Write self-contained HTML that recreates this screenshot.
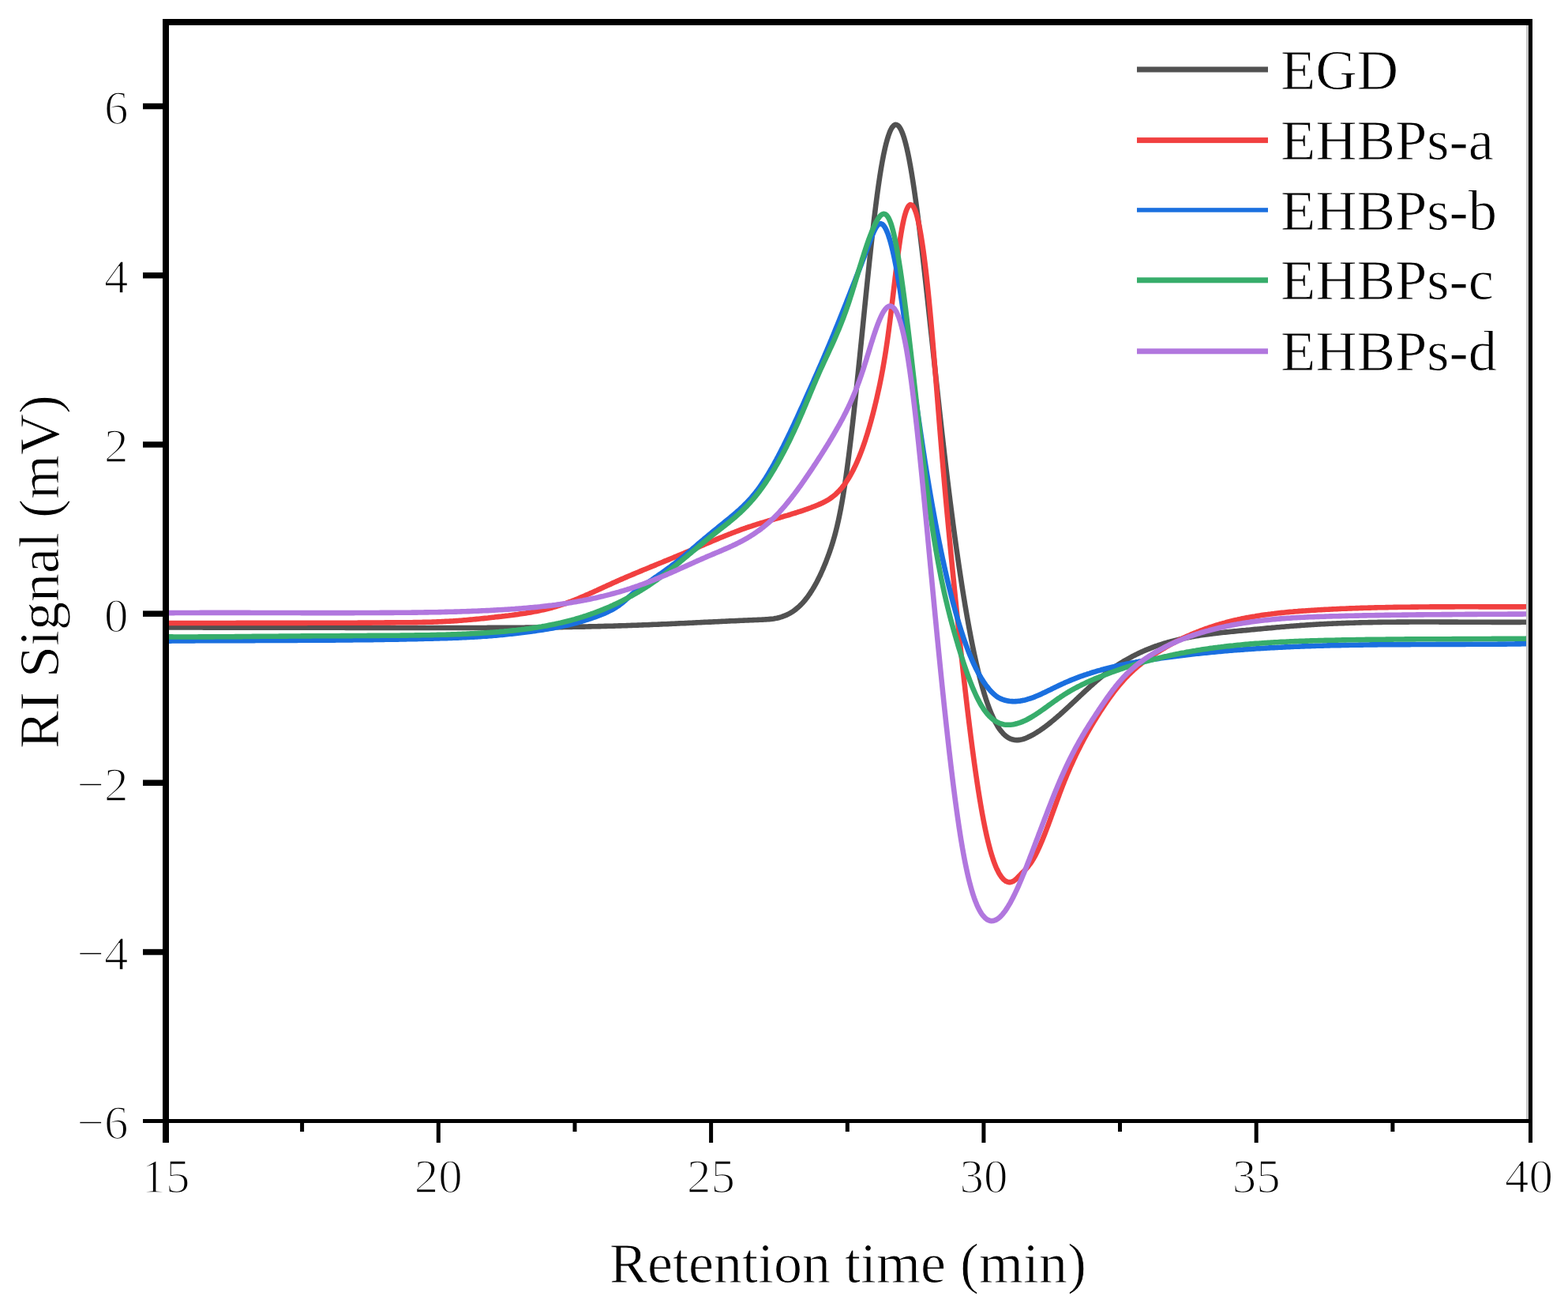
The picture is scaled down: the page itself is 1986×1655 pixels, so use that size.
<!DOCTYPE html>
<html><head><meta charset="utf-8"><title>RI Signal vs Retention time</title>
<style>html,body{margin:0;padding:0;background:#fff;}svg{display:block;}</style></head>
<body><svg xmlns="http://www.w3.org/2000/svg" width="1986" height="1655" viewBox="0 0 1986 1655">
<rect width="1986" height="1655" fill="#fff"/>
<defs><clipPath id="c"><rect x="214" y="32" width="1719" height="1385"/></clipPath></defs>
<g clip-path="url(#c)">
<path d="M210.0,794.5 212.0,794.5 214.0,794.5 216.0,794.5 218.0,794.5 220.0,794.5 222.0,794.5 224.0,794.5 226.0,794.5 228.0,794.5 230.0,794.5 232.0,794.5 234.0,794.5 236.0,794.5 238.0,794.5 240.0,794.5 242.0,794.5 244.0,794.5 246.0,794.5 248.0,794.5 250.0,794.5 252.0,794.5 254.0,794.5 256.0,794.5 258.0,794.6 260.0,794.6 262.0,794.6 264.0,794.6 266.0,794.6 268.0,794.6 270.0,794.6 272.0,794.6 274.0,794.6 276.0,794.6 278.0,794.6 280.0,794.6 282.0,794.6 284.0,794.6 286.0,794.6 288.0,794.6 290.0,794.6 292.0,794.6 294.0,794.6 296.0,794.6 298.0,794.6 300.0,794.6 302.0,794.6 304.0,794.6 306.0,794.6 308.0,794.6 310.0,794.6 312.0,794.6 314.0,794.6 316.0,794.6 318.0,794.6 320.0,794.6 322.0,794.6 324.0,794.6 326.0,794.6 328.0,794.7 330.0,794.7 332.0,794.7 334.0,794.7 336.0,794.7 338.0,794.7 340.0,794.7 342.0,794.7 344.0,794.7 346.0,794.7 348.0,794.7 350.0,794.7 352.0,794.7 354.0,794.7 356.0,794.7 358.0,794.7 360.0,794.7 362.0,794.7 364.0,794.7 366.0,794.7 368.0,794.7 370.0,794.7 372.0,794.7 374.0,794.7 376.0,794.7 378.0,794.7 380.0,794.7 382.0,794.7 384.0,794.8 386.0,794.8 388.0,794.8 390.0,794.8 392.0,794.8 394.0,794.8 396.0,794.8 398.0,794.8 400.0,794.8 402.0,794.8 404.0,794.8 406.0,794.8 408.0,794.8 410.0,794.8 412.0,794.8 414.0,794.8 416.0,794.8 418.0,794.8 420.0,794.8 422.0,794.8 424.0,794.8 426.0,794.8 428.0,794.8 430.0,794.8 432.0,794.8 434.0,794.8 436.0,794.8 438.0,794.9 440.0,794.9 442.0,794.9 444.0,794.9 446.0,794.9 448.0,794.9 450.0,794.9 452.0,794.9 454.0,794.9 456.0,794.9 458.0,794.9 460.0,794.9 462.0,794.9 464.0,794.9 466.0,794.9 468.0,794.9 470.0,794.9 472.0,794.9 474.0,794.9 476.0,794.9 478.0,794.9 480.0,794.9 482.0,794.9 484.0,794.9 486.0,794.9 488.0,794.9 490.0,794.9 492.0,794.9 494.0,794.9 496.0,795.0 498.0,795.0 500.0,795.0 502.0,795.0 504.0,795.0 506.0,795.0 508.0,795.0 510.0,795.0 512.0,795.0 514.0,795.0 516.0,795.0 518.0,795.0 520.0,795.0 522.0,795.0 524.0,795.0 526.0,795.0 528.0,795.0 530.0,795.0 532.0,795.0 534.0,795.0 536.0,795.0 538.0,795.0 540.0,795.0 542.0,795.0 544.0,795.0 546.0,795.0 548.0,795.0 550.0,795.0 552.0,795.0 554.0,795.0 556.0,795.0 558.0,795.0 560.0,795.0 562.0,795.0 564.0,795.0 566.0,795.0 568.0,795.0 570.0,795.0 572.0,795.0 574.0,795.0 576.0,795.0 578.0,795.0 580.0,795.0 582.0,795.0 584.0,795.0 586.0,795.0 588.0,795.0 590.0,795.0 592.0,795.0 594.0,795.0 596.0,795.0 598.0,795.0 600.0,795.0 602.0,795.0 604.0,795.0 606.0,795.0 608.0,795.0 610.0,795.0 612.0,795.0 614.0,795.0 616.0,795.0 618.0,794.9 620.0,794.9 622.0,794.9 624.0,794.9 626.0,794.9 628.0,794.9 630.0,794.9 632.0,794.9 634.0,794.9 636.0,794.9 638.0,794.9 640.0,794.8 642.0,794.8 644.0,794.8 646.0,794.8 648.0,794.8 650.0,794.8 652.0,794.8 654.0,794.7 656.0,794.7 658.0,794.7 660.0,794.7 662.0,794.7 664.0,794.7 666.0,794.6 668.0,794.6 670.0,794.6 672.0,794.6 674.0,794.6 676.0,794.6 678.0,794.5 680.0,794.5 682.0,794.5 684.0,794.5 686.0,794.4 688.0,794.4 690.0,794.4 692.0,794.4 694.0,794.3 696.0,794.3 698.0,794.3 700.0,794.3 702.0,794.2 704.0,794.2 706.0,794.2 708.0,794.1 710.0,794.1 712.0,794.1 714.0,794.0 716.0,794.0 718.0,794.0 720.0,793.9 722.0,793.9 724.0,793.9 726.0,793.8 728.0,793.8 730.0,793.8 732.0,793.7 734.0,793.7 736.0,793.6 738.0,793.6 740.0,793.6 742.0,793.5 744.0,793.5 746.0,793.4 748.0,793.4 750.0,793.3 752.0,793.3 754.0,793.2 756.0,793.2 758.0,793.1 760.0,793.1 762.0,793.0 764.0,793.0 766.0,792.9 768.0,792.9 770.0,792.8 772.0,792.8 774.0,792.7 776.0,792.7 778.0,792.6 780.0,792.5 782.0,792.5 784.0,792.4 786.0,792.4 788.0,792.3 790.0,792.2 792.0,792.2 794.0,792.1 796.0,792.0 798.0,792.0 800.0,791.9 802.0,791.8 804.0,791.8 806.0,791.7 808.0,791.6 810.0,791.5 812.0,791.5 814.0,791.4 816.0,791.3 818.0,791.2 820.0,791.2 822.0,791.1 824.0,791.0 826.0,790.9 828.0,790.8 830.0,790.8 832.0,790.7 834.0,790.6 836.0,790.5 838.0,790.4 840.0,790.3 842.0,790.2 844.0,790.2 846.0,790.1 848.0,790.0 850.0,789.9 852.0,789.8 854.0,789.7 856.0,789.6 858.0,789.5 860.0,789.4 862.0,789.3 864.0,789.3 866.0,789.2 868.0,789.1 870.0,789.0 872.0,788.9 874.0,788.8 876.0,788.7 878.0,788.6 880.0,788.5 882.0,788.4 884.0,788.3 886.0,788.2 888.0,788.1 890.0,788.0 892.0,787.9 894.0,787.8 896.0,787.7 898.0,787.6 900.0,787.6 902.0,787.5 904.0,787.4 906.0,787.3 908.0,787.2 910.0,787.1 912.0,787.0 914.0,786.9 916.0,786.8 918.0,786.7 920.0,786.6 922.0,786.5 924.0,786.4 926.0,786.3 928.0,786.2 930.0,786.2 932.0,786.1 934.0,786.0 936.0,785.9 938.0,785.8 940.0,785.7 942.0,785.6 944.0,785.5 946.0,785.5 948.0,785.4 950.0,785.3 952.0,785.2 954.0,785.1 956.0,785.0 958.0,785.0 960.0,784.9 962.0,784.8 964.0,784.7 966.0,784.6 968.0,784.5 970.0,784.4 972.0,784.3 974.0,784.1 976.0,783.9 978.0,783.7 980.0,783.4 982.0,783.0 984.0,782.7 986.0,782.2 988.0,781.7 990.0,781.1 991.9,780.4 993.8,779.7 995.7,778.9 997.6,778.0 999.4,777.1 1001.2,776.1 1003.0,775.0 1004.7,773.9 1006.4,772.7 1008.0,771.5 1009.6,770.1 1011.2,768.8 1012.7,767.4 1014.2,765.9 1015.6,764.5 1017.0,763.0 1018.4,761.4 1019.7,759.8 1021.0,758.2 1022.3,756.5 1023.5,754.9 1024.7,753.2 1025.9,751.5 1027.1,749.6 1028.2,747.9 1029.3,746.1 1030.4,744.3 1031.5,742.4 1032.5,740.7 1033.5,738.8 1034.5,737.0 1035.5,735.0 1036.5,733.1 1037.4,731.2 1038.3,729.4 1039.2,727.5 1040.1,725.5 1041.0,723.5 1041.9,721.5 1042.7,719.6 1043.5,717.7 1044.3,715.8 1045.1,713.9 1045.9,711.9 1046.7,709.8 1047.5,707.7 1048.3,705.6 1049.0,703.7 1049.7,701.8 1050.4,699.9 1051.1,697.9 1051.8,695.8 1052.5,693.8 1053.2,691.6 1053.9,689.4 1054.5,687.5 1055.1,685.5 1055.7,683.5 1056.3,681.4 1056.9,679.3 1057.5,677.1 1058.1,674.8 1058.7,672.5 1059.2,670.5 1059.7,668.5 1060.2,666.4 1060.7,664.3 1061.2,662.1 1061.7,659.9 1062.2,657.6 1062.7,655.3 1063.2,652.9 1063.7,650.4 1064.1,648.4 1064.5,646.4 1064.9,644.3 1065.3,642.1 1065.7,640.0 1066.1,637.8 1066.5,635.5 1066.9,633.2 1067.3,630.9 1067.7,628.5 1068.1,626.1 1068.5,623.6 1068.9,621.1 1069.3,618.5 1069.7,615.9 1070.0,613.9 1070.3,611.9 1070.6,609.8 1070.9,607.8 1071.2,605.7 1071.5,603.6 1071.8,601.5 1072.1,599.3 1072.4,597.1 1072.7,594.9 1073.0,592.7 1073.3,590.5 1073.6,588.2 1073.9,585.9 1074.2,583.6 1074.5,581.3 1074.8,579.0 1075.1,576.6 1075.4,574.2 1075.7,571.8 1076.0,569.4 1076.3,567.0 1076.6,564.5 1076.9,562.1 1077.2,559.6 1077.5,557.1 1077.8,554.5 1078.1,552.0 1078.4,549.4 1078.7,546.9 1079.0,544.3 1079.3,541.7 1079.6,539.1 1079.9,536.4 1080.2,533.8 1080.5,531.1 1080.8,528.4 1081.1,525.8 1081.4,523.1 1081.7,520.3 1082.0,517.6 1082.3,514.9 1082.6,512.1 1082.9,509.3 1083.2,506.6 1083.5,503.8 1083.8,501.0 1084.1,498.2 1084.4,495.4 1084.7,492.5 1085.0,489.7 1085.3,486.8 1085.6,484.0 1085.9,481.1 1086.2,478.2 1086.5,475.4 1086.8,472.5 1087.1,469.6 1087.4,466.7 1087.7,463.7 1088.0,460.8 1088.3,457.9 1088.6,455.0 1088.9,452.0 1089.2,449.1 1089.5,446.1 1089.8,443.2 1090.1,440.2 1090.4,437.2 1090.7,434.3 1091.0,431.3 1091.3,428.3 1091.6,425.3 1091.9,422.3 1092.2,419.4 1092.5,416.4 1092.7,414.4 1092.9,412.4 1093.1,410.4 1093.3,408.4 1093.5,406.4 1093.7,404.4 1093.9,402.4 1094.2,399.5 1094.5,396.5 1094.8,393.5 1095.1,390.5 1095.4,387.5 1095.7,384.6 1096.0,381.6 1096.3,378.6 1096.6,375.7 1096.9,372.7 1097.2,369.8 1097.5,366.8 1097.8,363.9 1098.1,360.9 1098.4,358.0 1098.7,355.1 1099.0,352.2 1099.3,349.3 1099.6,346.4 1099.9,343.5 1100.2,340.6 1100.5,337.8 1100.8,334.9 1101.1,332.0 1101.4,329.2 1101.7,326.4 1102.0,323.6 1102.3,320.8 1102.6,318.0 1102.9,315.2 1103.2,312.5 1103.5,309.7 1103.8,307.0 1104.1,304.3 1104.4,301.6 1104.7,298.9 1105.0,296.2 1105.3,293.6 1105.6,290.9 1105.9,288.3 1106.2,285.7 1106.5,283.1 1106.8,280.5 1107.1,278.0 1107.4,275.5 1107.7,273.0 1108.0,270.5 1108.3,268.0 1108.6,265.6 1108.9,263.2 1109.2,260.7 1109.5,258.4 1109.8,256.0 1110.1,253.7 1110.4,251.4 1110.7,249.1 1111.0,246.8 1111.3,244.6 1111.6,242.4 1111.9,240.2 1112.2,238.0 1112.5,235.9 1112.8,233.8 1113.1,231.7 1113.4,229.7 1113.7,227.7 1114.0,225.7 1114.4,223.1 1114.8,220.5 1115.2,218.0 1115.6,215.5 1116.0,213.1 1116.4,210.8 1116.8,208.5 1117.2,206.2 1117.6,204.0 1118.0,201.9 1118.4,199.8 1118.8,197.7 1119.2,195.7 1119.7,193.3 1120.2,191.0 1120.7,188.7 1121.2,186.5 1121.7,184.4 1122.2,182.4 1122.7,180.5 1123.3,178.3 1123.9,176.2 1124.5,174.2 1125.2,172.0 1125.9,170.0 1126.7,167.8 1127.5,165.9 1128.4,164.0 1129.4,162.2 1130.6,160.4 1132.0,158.9 1133.8,157.9 1135.8,158.0 1137.5,159.0 1138.9,160.5 1140.1,162.3 1141.1,164.2 1142.0,166.1 1142.8,168.0 1143.6,170.2 1144.3,172.2 1145.0,174.3 1145.6,176.3 1146.2,178.4 1146.8,180.6 1147.4,182.9 1147.9,185.0 1148.4,187.0 1148.9,189.2 1149.4,191.5 1149.9,193.8 1150.4,196.2 1150.8,198.1 1151.2,200.2 1151.6,202.2 1152.0,204.3 1152.4,206.5 1152.8,208.7 1153.2,210.9 1153.6,213.2 1154.0,215.5 1154.4,217.9 1154.8,220.3 1155.2,222.7 1155.6,225.2 1156.0,227.7 1156.4,230.3 1156.8,232.9 1157.2,235.5 1157.5,237.5 1157.8,239.6 1158.1,241.6 1158.4,243.7 1158.7,245.8 1159.0,247.9 1159.3,250.0 1159.6,252.1 1159.9,254.3 1160.2,256.5 1160.5,258.7 1160.8,260.9 1161.1,263.1 1161.4,265.4 1161.7,267.6 1162.0,269.9 1162.3,272.2 1162.6,274.5 1162.9,276.9 1163.2,279.2 1163.5,281.6 1163.8,284.0 1164.1,286.3 1164.4,288.8 1164.7,291.2 1165.0,293.6 1165.3,296.1 1165.6,298.5 1165.9,301.0 1166.2,303.5 1166.5,306.0 1166.8,308.5 1167.1,311.1 1167.4,313.6 1167.7,316.2 1168.0,318.7 1168.3,321.3 1168.6,323.9 1168.9,326.5 1169.2,329.1 1169.5,331.7 1169.8,334.3 1170.1,337.0 1170.4,339.6 1170.7,342.3 1171.0,344.9 1171.3,347.6 1171.6,350.3 1171.9,353.0 1172.2,355.7 1172.5,358.4 1172.8,361.1 1173.1,363.8 1173.4,366.5 1173.7,369.3 1174.0,372.0 1174.3,374.7 1174.6,377.5 1174.9,380.2 1175.2,383.0 1175.5,385.8 1175.8,388.5 1176.1,391.3 1176.4,394.1 1176.7,396.8 1177.0,399.6 1177.3,402.4 1177.6,405.2 1177.9,408.0 1178.2,410.8 1178.5,413.6 1178.8,416.4 1179.1,419.1 1179.4,421.9 1179.7,424.7 1180.0,427.5 1180.3,430.3 1180.6,433.1 1180.9,435.9 1181.2,438.7 1181.5,441.5 1181.8,444.3 1182.1,447.1 1182.4,449.9 1182.7,452.7 1183.0,455.5 1183.3,458.3 1183.6,461.1 1183.9,463.9 1184.2,466.6 1184.5,469.4 1184.8,472.2 1185.1,475.0 1185.4,477.8 1185.7,480.5 1186.0,483.3 1186.3,486.1 1186.6,488.9 1186.9,491.6 1187.2,494.4 1187.5,497.1 1187.8,499.9 1188.1,502.6 1188.4,505.4 1188.7,508.1 1189.0,510.9 1189.3,513.6 1189.6,516.3 1189.9,519.0 1190.2,521.8 1190.5,524.5 1190.8,527.2 1191.1,529.9 1191.4,532.6 1191.7,535.3 1192.0,537.9 1192.3,540.6 1192.6,543.3 1192.9,546.0 1193.2,548.6 1193.5,551.3 1193.8,553.9 1194.1,556.5 1194.4,559.2 1194.7,561.8 1195.0,564.4 1195.3,567.0 1195.6,569.6 1195.9,572.2 1196.2,574.8 1196.5,577.4 1196.8,579.9 1197.1,582.5 1197.4,585.1 1197.7,587.6 1198.0,590.1 1198.3,592.7 1198.6,595.2 1198.9,597.7 1199.2,600.2 1199.5,602.7 1199.8,605.2 1200.1,607.6 1200.4,610.1 1200.7,612.5 1201.0,615.0 1201.3,617.4 1201.6,619.9 1201.9,622.3 1202.2,624.7 1202.5,627.1 1202.8,629.5 1203.1,631.9 1203.4,634.3 1203.7,636.6 1204.0,639.0 1204.3,641.3 1204.6,643.7 1204.9,646.0 1205.2,648.3 1205.5,650.7 1205.8,653.0 1206.1,655.3 1206.4,657.5 1206.7,659.8 1207.0,662.1 1207.3,664.4 1207.6,666.6 1207.9,668.9 1208.2,671.1 1208.5,673.3 1208.8,675.5 1209.1,677.7 1209.4,679.9 1209.7,682.1 1210.0,684.3 1210.3,686.5 1210.6,688.7 1210.9,690.8 1211.2,693.0 1211.5,695.1 1211.8,697.2 1212.1,699.3 1212.4,701.4 1212.7,703.5 1213.0,705.6 1213.3,707.7 1213.6,709.8 1213.9,711.8 1214.2,713.9 1214.5,715.9 1214.8,718.0 1215.1,720.0 1215.4,722.0 1215.7,724.0 1216.0,726.0 1216.3,728.0 1216.6,730.0 1217.0,732.6 1217.4,735.2 1217.8,737.8 1218.2,740.4 1218.6,742.9 1219.0,745.5 1219.4,748.0 1219.8,750.5 1220.2,753.0 1220.6,755.5 1221.0,757.9 1221.4,760.3 1221.8,762.8 1222.2,765.2 1222.6,767.6 1223.0,769.9 1223.4,772.3 1223.8,774.6 1224.2,776.9 1224.6,779.2 1225.0,781.5 1225.4,783.8 1225.8,786.0 1226.2,788.2 1226.6,790.5 1227.0,792.6 1227.4,794.8 1227.8,797.0 1228.2,799.1 1228.6,801.2 1229.0,803.4 1229.4,805.4 1229.8,807.5 1230.2,809.6 1230.6,811.6 1231.0,813.6 1231.4,815.6 1231.8,817.6 1232.2,819.6 1232.7,822.0 1233.2,824.4 1233.7,826.8 1234.2,829.1 1234.7,831.4 1235.2,833.7 1235.7,836.0 1236.2,838.2 1236.7,840.4 1237.2,842.6 1237.7,844.7 1238.2,846.8 1238.7,848.9 1239.2,851.0 1239.7,853.0 1240.2,855.0 1240.7,857.0 1241.2,858.9 1241.8,861.2 1242.4,863.5 1243.0,865.7 1243.6,867.9 1244.2,870.0 1244.8,872.1 1245.4,874.2 1246.0,876.2 1246.6,878.2 1247.2,880.2 1247.8,882.1 1248.5,884.2 1249.2,886.4 1249.9,888.5 1250.6,890.5 1251.3,892.5 1252.0,894.4 1252.7,896.3 1253.5,898.4 1254.3,900.4 1255.1,902.4 1255.9,904.3 1256.7,906.1 1257.6,908.1 1258.5,910.0 1259.4,911.9 1260.4,913.9 1261.4,915.7 1262.4,917.5 1263.5,919.4 1264.6,921.1 1265.8,922.9 1267.0,924.5 1268.3,926.2 1269.6,927.7 1271.0,929.3 1272.5,930.7 1274.1,932.1 1275.8,933.3 1277.5,934.4 1279.3,935.3 1281.2,936.0 1283.2,936.6 1285.2,937.0 1287.2,937.1 1289.2,937.1 1291.2,936.9 1293.2,936.6 1295.2,936.1 1297.2,935.5 1299.1,934.8 1301.0,934.0 1302.9,933.1 1304.7,932.2 1306.5,931.3 1308.3,930.3 1310.1,929.3 1311.9,928.2 1313.7,927.1 1315.4,926.0 1317.1,924.9 1318.8,923.7 1320.5,922.6 1322.2,921.3 1323.9,920.1 1325.5,918.9 1327.1,917.7 1328.7,916.4 1330.3,915.1 1331.9,913.8 1333.5,912.5 1335.1,911.2 1336.7,909.8 1338.3,908.5 1339.9,907.1 1341.5,905.7 1343.0,904.4 1344.5,903.0 1346.0,901.7 1347.5,900.3 1349.0,898.9 1350.5,897.6 1352.0,896.2 1353.5,894.8 1355.0,893.4 1356.5,892.0 1358.0,890.6 1359.5,889.2 1361.0,887.8 1362.5,886.4 1364.0,885.0 1365.5,883.5 1367.0,882.1 1368.5,880.7 1370.0,879.3 1371.5,877.9 1373.0,876.5 1374.5,875.1 1376.0,873.8 1377.5,872.4 1379.0,871.0 1380.5,869.6 1382.0,868.3 1383.5,867.0 1385.0,865.6 1386.6,864.2 1388.2,862.8 1389.8,861.5 1391.4,860.1 1393.0,858.8 1394.6,857.5 1396.2,856.2 1397.8,854.9 1399.4,853.7 1401.0,852.4 1402.6,851.2 1404.3,849.9 1406.0,848.7 1407.7,847.5 1409.4,846.3 1411.1,845.1 1412.8,844.0 1414.5,842.8 1416.2,841.7 1417.9,840.6 1419.6,839.6 1421.4,838.5 1423.2,837.4 1425.0,836.3 1426.8,835.3 1428.6,834.3 1430.4,833.3 1432.2,832.3 1434.0,831.3 1435.8,830.4 1437.6,829.5 1439.4,828.6 1441.2,827.7 1443.1,826.8 1445.0,825.9 1446.9,825.1 1448.8,824.2 1450.7,823.4 1452.6,822.6 1454.5,821.9 1456.4,821.1 1458.3,820.4 1460.2,819.6 1462.1,818.9 1464.0,818.2 1465.9,817.6 1467.8,816.9 1469.7,816.3 1471.7,815.7 1473.7,815.0 1475.7,814.4 1477.7,813.8 1479.7,813.2 1481.7,812.7 1483.7,812.1 1485.7,811.6 1487.7,811.1 1489.7,810.6 1491.7,810.1 1493.7,809.6 1495.7,809.2 1497.7,808.7 1499.7,808.3 1501.7,807.9 1503.7,807.5 1505.7,807.1 1507.7,806.7 1509.7,806.3 1511.7,806.0 1513.7,805.6 1515.7,805.3 1517.7,805.0 1519.7,804.6 1521.7,804.3 1523.7,804.0 1525.7,803.7 1527.7,803.5 1529.7,803.2 1531.7,802.9 1533.7,802.6 1535.7,802.4 1537.7,802.1 1539.7,801.9 1541.7,801.7 1543.7,801.4 1545.7,801.2 1547.7,801.0 1549.7,800.8 1551.7,800.6 1553.7,800.4 1555.7,800.2 1557.7,800.0 1559.7,799.8 1561.7,799.6 1563.7,799.4 1565.7,799.2 1567.7,799.0 1569.7,798.8 1571.7,798.6 1573.7,798.4 1575.7,798.2 1577.7,798.1 1579.7,797.9 1581.7,797.7 1583.7,797.5 1585.7,797.3 1587.7,797.1 1589.7,796.9 1591.7,796.7 1593.7,796.5 1595.7,796.4 1597.7,796.2 1599.7,796.0 1601.7,795.8 1603.7,795.6 1605.7,795.4 1607.7,795.2 1609.7,795.1 1611.7,794.9 1613.7,794.7 1615.7,794.5 1617.7,794.3 1619.7,794.2 1621.7,794.0 1623.7,793.8 1625.7,793.7 1627.7,793.5 1629.7,793.3 1631.7,793.2 1633.7,793.0 1635.7,792.8 1637.7,792.7 1639.7,792.5 1641.7,792.4 1643.7,792.2 1645.7,792.1 1647.7,791.9 1649.7,791.8 1651.7,791.7 1653.7,791.5 1655.7,791.4 1657.7,791.3 1659.7,791.1 1661.7,791.0 1663.7,790.9 1665.7,790.8 1667.7,790.6 1669.7,790.5 1671.7,790.4 1673.7,790.3 1675.7,790.2 1677.7,790.1 1679.7,790.0 1681.7,789.9 1683.7,789.8 1685.7,789.7 1687.7,789.6 1689.7,789.5 1691.7,789.5 1693.7,789.4 1695.7,789.3 1697.7,789.2 1699.7,789.1 1701.7,789.1 1703.7,789.0 1705.7,788.9 1707.7,788.9 1709.7,788.8 1711.7,788.7 1713.7,788.7 1715.7,788.6 1717.7,788.5 1719.7,788.5 1721.7,788.4 1723.7,788.4 1725.7,788.3 1727.7,788.3 1729.7,788.2 1731.7,788.2 1733.7,788.1 1735.7,788.1 1737.7,788.1 1739.7,788.0 1741.7,788.0 1743.7,788.0 1745.7,787.9 1747.7,787.9 1749.7,787.9 1751.7,787.8 1753.7,787.8 1755.7,787.8 1757.7,787.8 1759.7,787.7 1761.7,787.7 1763.7,787.7 1765.7,787.7 1767.7,787.7 1769.7,787.6 1771.7,787.6 1773.7,787.6 1775.7,787.6 1777.7,787.6 1779.7,787.6 1781.7,787.6 1783.7,787.6 1785.7,787.5 1787.7,787.5 1789.7,787.5 1791.7,787.5 1793.7,787.5 1795.7,787.5 1797.7,787.5 1799.7,787.5 1801.7,787.5 1803.7,787.5 1805.7,787.5 1807.7,787.5 1809.7,787.5 1811.7,787.5 1813.7,787.5 1815.7,787.5 1817.7,787.5 1819.7,787.5 1821.7,787.5 1823.7,787.6 1825.7,787.6 1827.7,787.6 1829.7,787.6 1831.7,787.6 1833.7,787.6 1835.7,787.6 1837.7,787.6 1839.7,787.6 1841.7,787.6 1843.7,787.6 1845.7,787.6 1847.7,787.7 1849.7,787.7 1851.7,787.7 1853.7,787.7 1855.7,787.7 1857.7,787.7 1859.7,787.7 1861.7,787.7 1863.7,787.7 1865.7,787.7 1867.7,787.8 1869.7,787.8 1871.7,787.8 1873.7,787.8 1875.7,787.8 1877.7,787.8 1879.7,787.8 1881.7,787.8 1883.7,787.8 1885.7,787.8 1887.7,787.8 1889.7,787.9 1891.7,787.9 1893.7,787.9 1895.7,787.9 1897.7,787.9 1899.7,787.9 1901.7,787.9 1903.7,787.9 1905.7,787.9 1907.7,787.9 1909.7,787.9 1911.7,787.9 1913.7,787.9 1915.7,787.9 1917.7,787.9 1919.7,787.9 1921.7,787.9 1923.7,787.9 1925.7,787.9 1927.7,787.8 1929.7,787.8 1931.7,787.8 1933.7,787.8 1935.0,787.8" stroke="#515151" stroke-width="6.6" fill="none" stroke-linejoin="round" stroke-linecap="butt"/>
<path d="M210.0,789.0 212.0,789.0 214.0,789.0 216.0,789.0 218.0,789.0 220.0,789.0 222.0,789.0 224.0,789.0 226.0,789.0 228.0,789.0 230.0,789.0 232.0,789.0 234.0,789.0 236.0,789.0 238.0,789.0 240.0,789.0 242.0,789.0 244.0,789.0 246.0,789.0 248.0,789.0 250.0,789.0 252.0,789.0 254.0,789.0 256.0,789.0 258.0,789.0 260.0,789.0 262.0,789.0 264.0,789.0 266.0,789.0 268.0,789.0 270.0,789.0 272.0,789.0 274.0,789.0 276.0,789.0 278.0,789.0 280.0,789.0 282.0,789.0 284.0,789.0 286.0,789.0 288.0,789.0 290.0,789.0 292.0,789.0 294.0,789.0 296.0,789.0 298.0,789.0 300.0,788.9 302.0,788.9 304.0,788.9 306.0,788.9 308.0,788.9 310.0,788.9 312.0,788.9 314.0,788.9 316.0,788.9 318.0,788.9 320.0,788.9 322.0,788.9 324.0,788.9 326.0,788.9 328.0,788.9 330.0,788.9 332.0,788.9 334.0,788.9 336.0,788.9 338.0,788.9 340.0,788.9 342.0,788.9 344.0,788.9 346.0,788.9 348.0,788.9 350.0,788.9 352.0,788.9 354.0,788.9 356.0,788.9 358.0,788.9 360.0,788.9 362.0,788.9 364.0,788.9 366.0,788.9 368.0,788.9 370.0,788.9 372.0,788.9 374.0,788.9 376.0,788.9 378.0,788.9 380.0,788.9 382.0,788.9 384.0,788.9 386.0,788.9 388.0,788.9 390.0,788.8 392.0,788.8 394.0,788.8 396.0,788.8 398.0,788.8 400.0,788.8 402.0,788.8 404.0,788.8 406.0,788.8 408.0,788.8 410.0,788.8 412.0,788.8 414.0,788.8 416.0,788.8 418.0,788.8 420.0,788.8 422.0,788.8 424.0,788.8 426.0,788.8 428.0,788.7 430.0,788.7 432.0,788.7 434.0,788.7 436.0,788.7 438.0,788.7 440.0,788.7 442.0,788.7 444.0,788.7 446.0,788.7 448.0,788.7 450.0,788.7 452.0,788.7 454.0,788.6 456.0,788.6 458.0,788.6 460.0,788.6 462.0,788.6 464.0,788.6 466.0,788.6 468.0,788.6 470.0,788.6 472.0,788.5 474.0,788.5 476.0,788.5 478.0,788.5 480.0,788.5 482.0,788.5 484.0,788.5 486.0,788.5 488.0,788.4 490.0,788.4 492.0,788.4 494.0,788.4 496.0,788.4 498.0,788.4 500.0,788.4 502.0,788.3 504.0,788.3 506.0,788.3 508.0,788.3 510.0,788.3 512.0,788.3 514.0,788.2 516.0,788.2 518.0,788.2 520.0,788.2 522.0,788.2 524.0,788.1 526.0,788.1 528.0,788.1 530.0,788.0 532.0,788.0 534.0,788.0 536.0,787.9 538.0,787.9 540.0,787.8 542.0,787.8 544.0,787.7 546.0,787.7 548.0,787.6 550.0,787.5 552.0,787.5 554.0,787.4 556.0,787.3 558.0,787.2 560.0,787.1 562.0,787.0 564.0,786.9 566.0,786.8 568.0,786.7 570.0,786.6 572.0,786.5 574.0,786.4 576.0,786.2 578.0,786.1 580.0,786.0 582.0,785.8 584.0,785.7 586.0,785.5 588.0,785.3 590.0,785.2 592.0,785.0 594.0,784.8 596.0,784.6 598.0,784.5 600.0,784.3 602.0,784.1 604.0,783.9 606.0,783.7 608.0,783.5 610.0,783.3 612.0,783.1 614.0,782.9 616.0,782.7 618.0,782.5 620.0,782.2 622.0,782.0 624.0,781.8 626.0,781.6 628.0,781.3 630.0,781.1 632.0,780.9 634.0,780.7 636.0,780.4 638.0,780.2 640.0,779.9 642.0,779.7 644.0,779.5 646.0,779.2 648.0,779.0 650.0,778.7 652.0,778.4 654.0,778.2 656.0,777.9 658.0,777.6 660.0,777.3 662.0,777.0 664.0,776.7 666.0,776.4 668.0,776.0 670.0,775.7 672.0,775.4 674.0,775.0 676.0,774.6 678.0,774.3 680.0,773.9 682.0,773.5 684.0,773.0 686.0,772.6 688.0,772.2 690.0,771.7 692.0,771.2 694.0,770.7 696.0,770.2 698.0,769.7 700.0,769.2 702.0,768.6 704.0,768.0 706.0,767.4 708.0,766.8 710.0,766.2 712.0,765.5 713.9,764.9 715.8,764.3 717.7,763.6 719.6,762.9 721.5,762.2 723.4,761.5 725.3,760.7 727.2,760.0 729.1,759.2 731.0,758.5 732.9,757.7 734.8,756.9 736.7,756.1 738.6,755.3 740.5,754.5 742.4,753.6 744.3,752.8 746.2,752.0 748.1,751.1 750.0,750.3 751.9,749.4 753.8,748.5 755.7,747.7 757.6,746.8 759.5,745.9 761.4,745.1 763.3,744.2 765.2,743.3 767.1,742.5 769.0,741.6 770.9,740.7 772.8,739.9 774.7,739.0 776.6,738.1 778.5,737.3 780.4,736.4 782.3,735.6 784.2,734.7 786.1,733.9 788.0,733.1 789.9,732.3 791.8,731.4 793.7,730.6 795.6,729.8 797.5,729.0 799.4,728.2 801.3,727.4 803.2,726.6 805.1,725.8 807.0,725.0 808.9,724.2 810.8,723.4 812.7,722.6 814.6,721.8 816.5,721.0 818.4,720.3 820.3,719.5 822.2,718.7 824.1,717.9 826.0,717.1 827.9,716.4 829.8,715.6 831.7,714.8 833.6,714.0 835.5,713.2 837.4,712.5 839.3,711.7 841.2,710.9 843.1,710.1 845.0,709.4 846.9,708.6 848.8,707.8 850.7,707.0 852.6,706.2 854.5,705.4 856.4,704.7 858.3,703.9 860.2,703.1 862.1,702.3 864.0,701.5 865.9,700.7 867.8,699.9 869.7,699.1 871.6,698.3 873.5,697.5 875.4,696.7 877.3,695.9 879.2,695.0 881.1,694.2 883.0,693.4 884.9,692.6 886.8,691.8 888.7,691.0 890.6,690.2 892.5,689.3 894.4,688.5 896.3,687.7 898.2,686.9 900.1,686.1 902.0,685.3 903.9,684.5 905.8,683.7 907.7,682.9 909.6,682.1 911.5,681.3 913.4,680.5 915.3,679.8 917.2,679.0 919.1,678.2 921.0,677.5 922.9,676.7 924.8,676.0 926.7,675.2 928.6,674.5 930.5,673.8 932.4,673.0 934.3,672.3 936.2,671.6 938.1,670.9 940.0,670.2 941.9,669.5 943.8,668.9 945.7,668.2 947.6,667.5 949.5,666.9 951.4,666.3 953.4,665.6 955.4,665.0 957.4,664.3 959.4,663.7 961.4,663.1 963.4,662.5 965.4,661.9 967.4,661.3 969.4,660.7 971.4,660.1 973.4,659.5 975.4,658.9 977.4,658.3 979.4,657.8 981.4,657.2 983.4,656.6 985.4,656.0 987.4,655.5 989.4,654.9 991.4,654.3 993.4,653.7 995.4,653.1 997.4,652.6 999.4,652.0 1001.4,651.4 1003.4,650.7 1005.4,650.1 1007.4,649.5 1009.4,648.9 1011.4,648.2 1013.4,647.6 1015.3,647.0 1017.2,646.3 1019.1,645.7 1021.0,645.0 1022.9,644.3 1024.8,643.7 1026.7,643.0 1028.6,642.2 1030.5,641.5 1032.4,640.8 1034.3,640.0 1036.2,639.2 1038.1,638.4 1040.0,637.6 1041.9,636.7 1043.7,635.8 1045.5,634.9 1047.3,633.8 1049.1,632.8 1050.8,631.7 1052.5,630.5 1054.2,629.3 1055.8,628.0 1057.4,626.7 1058.9,625.4 1060.4,623.9 1061.9,622.5 1063.3,621.0 1064.7,619.4 1066.1,617.8 1067.4,616.2 1068.7,614.6 1069.9,613.0 1071.1,611.3 1072.3,609.5 1073.5,607.7 1074.6,606.0 1075.7,604.2 1076.8,602.3 1077.8,600.5 1078.8,598.7 1079.8,596.8 1080.8,594.9 1081.7,593.1 1082.6,591.2 1083.5,589.3 1084.4,587.4 1085.3,585.4 1086.2,583.3 1087.0,581.4 1087.8,579.5 1088.6,577.6 1089.4,575.5 1090.2,573.5 1091.0,571.4 1091.7,569.5 1092.4,567.6 1093.1,565.6 1093.8,563.7 1094.5,561.6 1095.2,559.6 1095.9,557.5 1096.6,555.3 1097.3,553.1 1098.0,550.9 1098.6,549.0 1099.2,547.0 1099.8,545.0 1100.4,543.0 1101.0,540.9 1101.6,538.8 1102.2,536.7 1102.8,534.6 1103.4,532.4 1104.0,530.2 1104.6,527.9 1105.2,525.6 1105.8,523.3 1106.3,521.4 1106.8,519.4 1107.3,517.4 1107.8,515.4 1108.3,513.3 1108.8,511.3 1109.3,509.2 1109.8,507.1 1110.3,504.9 1110.8,502.8 1111.3,500.6 1111.8,498.3 1112.3,496.1 1112.8,493.8 1113.3,491.5 1113.8,489.2 1114.3,486.8 1114.8,484.4 1115.2,482.4 1115.6,480.4 1116.0,478.4 1116.4,476.3 1116.8,474.2 1117.2,472.1 1117.6,470.0 1118.0,467.8 1118.4,465.6 1118.8,463.3 1119.2,461.0 1119.6,458.7 1120.0,456.3 1120.4,453.9 1120.8,451.5 1121.2,449.0 1121.6,446.5 1122.0,443.9 1122.4,441.3 1122.7,439.3 1123.0,437.3 1123.3,435.3 1123.6,433.2 1123.9,431.1 1124.2,429.0 1124.5,426.9 1124.8,424.7 1125.1,422.5 1125.4,420.2 1125.7,418.0 1126.0,415.7 1126.3,413.4 1126.6,411.0 1126.9,408.7 1127.2,406.3 1127.5,403.9 1127.8,401.5 1128.1,399.0 1128.4,396.6 1128.7,394.1 1129.0,391.6 1129.3,389.1 1129.6,386.6 1129.9,384.1 1130.2,381.6 1130.5,379.1 1130.8,376.5 1131.1,374.0 1131.4,371.5 1131.7,368.9 1132.0,366.4 1132.3,363.8 1132.6,361.3 1132.9,358.8 1133.2,356.3 1133.5,353.8 1133.8,351.2 1134.1,348.8 1134.4,346.3 1134.7,343.8 1135.0,341.3 1135.3,338.9 1135.6,336.5 1135.9,334.1 1136.2,331.7 1136.5,329.3 1136.8,327.0 1137.1,324.7 1137.4,322.4 1137.7,320.1 1138.0,317.9 1138.3,315.7 1138.6,313.5 1138.9,311.4 1139.2,309.3 1139.5,307.2 1139.8,305.1 1140.1,303.1 1140.5,300.5 1140.9,298.0 1141.3,295.5 1141.7,293.2 1142.1,290.9 1142.5,288.7 1142.9,286.5 1143.3,284.5 1143.7,282.5 1144.2,280.2 1144.7,277.9 1145.2,275.8 1145.7,273.9 1146.3,271.7 1146.9,269.7 1147.6,267.5 1148.3,265.6 1149.1,263.8 1150.1,261.9 1151.3,260.2 1153.0,259.1 1155.0,259.6 1156.4,261.0 1157.5,262.8 1158.4,264.7 1159.2,266.6 1159.9,268.6 1160.6,270.8 1161.2,272.9 1161.8,275.1 1162.3,277.1 1162.8,279.1 1163.3,281.3 1163.8,283.6 1164.3,286.1 1164.7,288.1 1165.1,290.2 1165.5,292.3 1165.9,294.6 1166.3,296.9 1166.7,299.2 1167.1,301.7 1167.5,304.2 1167.9,306.7 1168.2,308.7 1168.5,310.7 1168.8,312.8 1169.1,314.9 1169.4,317.0 1169.7,319.2 1170.0,321.4 1170.3,323.7 1170.6,325.9 1170.9,328.3 1171.2,330.6 1171.5,333.0 1171.8,335.5 1172.1,337.9 1172.4,340.5 1172.7,343.0 1173.0,345.6 1173.3,348.2 1173.6,350.9 1173.9,353.6 1174.2,356.3 1174.5,359.1 1174.8,361.9 1175.1,364.8 1175.4,367.7 1175.7,370.6 1176.0,373.5 1176.2,375.5 1176.4,377.6 1176.6,379.6 1176.8,381.6 1177.0,383.7 1177.2,385.8 1177.4,387.9 1177.6,390.0 1177.8,392.1 1178.0,394.2 1178.2,396.4 1178.4,398.5 1178.6,400.7 1178.8,402.9 1179.0,405.1 1179.2,407.3 1179.4,409.6 1179.6,411.8 1179.8,414.1 1180.0,416.4 1180.2,418.6 1180.4,420.9 1180.6,423.2 1180.8,425.6 1181.0,427.9 1181.2,430.2 1181.4,432.6 1181.6,434.9 1181.8,437.3 1182.0,439.7 1182.2,442.1 1182.4,444.4 1182.6,446.8 1182.8,449.3 1183.0,451.7 1183.2,454.1 1183.4,456.5 1183.6,459.0 1183.8,461.4 1184.0,463.8 1184.2,466.3 1184.4,468.8 1184.6,471.2 1184.8,473.7 1185.0,476.2 1185.2,478.6 1185.4,481.1 1185.6,483.6 1185.8,486.1 1186.0,488.6 1186.2,491.1 1186.4,493.6 1186.6,496.0 1186.8,498.5 1187.0,501.0 1187.2,503.5 1187.4,506.0 1187.6,508.5 1187.8,511.0 1188.0,513.5 1188.2,516.0 1188.4,518.5 1188.6,521.0 1188.8,523.5 1189.0,526.0 1189.2,528.5 1189.4,531.0 1189.6,533.5 1189.8,536.0 1190.0,538.4 1190.2,540.9 1190.4,543.4 1190.6,545.8 1190.8,548.3 1191.0,550.8 1191.2,553.2 1191.4,555.7 1191.6,558.1 1191.8,560.5 1192.0,563.0 1192.2,565.4 1192.4,567.8 1192.6,570.2 1192.8,572.6 1193.0,575.0 1193.2,577.4 1193.4,579.7 1193.6,582.1 1193.8,584.5 1194.0,586.8 1194.2,589.2 1194.4,591.5 1194.6,593.8 1194.8,596.1 1195.0,598.4 1195.2,600.8 1195.4,603.1 1195.6,605.3 1195.8,607.6 1196.0,609.9 1196.2,612.2 1196.4,614.5 1196.6,616.7 1196.8,619.0 1197.0,621.2 1197.2,623.5 1197.4,625.7 1197.6,627.9 1197.8,630.1 1198.0,632.3 1198.2,634.6 1198.4,636.8 1198.6,639.0 1198.8,641.1 1199.0,643.3 1199.2,645.5 1199.4,647.7 1199.6,649.9 1199.8,652.0 1200.0,654.2 1200.2,656.3 1200.4,658.5 1200.6,660.6 1200.8,662.8 1201.0,664.9 1201.2,667.0 1201.4,669.1 1201.6,671.3 1201.8,673.4 1202.0,675.5 1202.2,677.6 1202.4,679.7 1202.6,681.8 1202.8,683.9 1203.0,686.0 1203.2,688.0 1203.4,690.1 1203.6,692.2 1203.8,694.3 1204.0,696.3 1204.2,698.4 1204.4,700.4 1204.6,702.5 1204.8,704.5 1205.0,706.6 1205.2,708.6 1205.4,710.7 1205.6,712.7 1205.8,714.7 1206.0,716.8 1206.2,718.8 1206.4,720.8 1206.6,722.9 1206.8,724.9 1207.0,726.9 1207.2,728.9 1207.4,730.9 1207.6,732.9 1207.8,734.9 1208.0,736.9 1208.2,738.9 1208.4,740.9 1208.6,742.9 1208.8,744.9 1209.1,747.9 1209.4,750.9 1209.7,753.8 1210.0,756.8 1210.3,759.8 1210.6,762.7 1210.9,765.7 1211.2,768.6 1211.5,771.5 1211.8,774.5 1212.1,777.4 1212.4,780.3 1212.7,783.2 1213.0,786.1 1213.3,789.0 1213.6,791.9 1213.9,794.7 1214.2,797.6 1214.5,800.5 1214.8,803.3 1215.1,806.2 1215.4,809.0 1215.7,811.8 1216.0,814.7 1216.3,817.5 1216.6,820.3 1216.9,823.1 1217.2,825.9 1217.5,828.6 1217.8,831.4 1218.1,834.2 1218.4,836.9 1218.7,839.7 1219.0,842.4 1219.3,845.1 1219.6,847.8 1219.9,850.6 1220.2,853.2 1220.5,855.9 1220.8,858.6 1221.1,861.3 1221.4,863.9 1221.7,866.6 1222.0,869.2 1222.3,871.9 1222.6,874.5 1222.9,877.1 1223.2,879.7 1223.5,882.3 1223.8,884.9 1224.1,887.4 1224.4,890.0 1224.7,892.5 1225.0,895.1 1225.3,897.6 1225.6,900.1 1225.9,902.6 1226.2,905.1 1226.5,907.6 1226.8,910.1 1227.1,912.5 1227.4,915.0 1227.7,917.4 1228.0,919.8 1228.3,922.2 1228.6,924.6 1228.9,927.0 1229.2,929.4 1229.5,931.8 1229.8,934.1 1230.1,936.5 1230.4,938.8 1230.7,941.1 1231.0,943.4 1231.3,945.7 1231.6,948.0 1231.9,950.2 1232.2,952.5 1232.5,954.7 1232.8,957.0 1233.1,959.2 1233.4,961.4 1233.7,963.5 1234.0,965.7 1234.3,967.9 1234.6,970.0 1234.9,972.1 1235.2,974.3 1235.5,976.4 1235.8,978.4 1236.1,980.5 1236.4,982.6 1236.7,984.6 1237.0,986.7 1237.3,988.7 1237.6,990.7 1237.9,992.7 1238.3,995.3 1238.7,997.9 1239.1,1000.5 1239.5,1003.0 1239.9,1005.5 1240.3,1008.0 1240.7,1010.5 1241.1,1012.9 1241.5,1015.3 1241.9,1017.7 1242.3,1020.0 1242.7,1022.4 1243.1,1024.7 1243.5,1026.9 1243.9,1029.2 1244.3,1031.4 1244.7,1033.5 1245.1,1035.7 1245.5,1037.8 1245.9,1039.9 1246.3,1041.9 1246.7,1044.0 1247.1,1046.0 1247.5,1047.9 1248.0,1050.3 1248.5,1052.7 1249.0,1055.0 1249.5,1057.3 1250.0,1059.5 1250.5,1061.6 1251.0,1063.7 1251.5,1065.8 1252.0,1067.8 1252.5,1069.8 1253.1,1072.1 1253.7,1074.4 1254.3,1076.6 1254.9,1078.7 1255.5,1080.7 1256.1,1082.7 1256.7,1084.6 1257.4,1086.8 1258.1,1088.9 1258.8,1090.9 1259.5,1092.8 1260.3,1094.9 1261.1,1096.9 1261.9,1098.8 1262.8,1100.8 1263.7,1102.6 1264.7,1104.6 1265.7,1106.4 1266.8,1108.2 1268.0,1109.9 1269.3,1111.6 1270.7,1113.2 1272.2,1114.5 1273.9,1115.8 1275.7,1116.6 1277.7,1117.1 1279.7,1117.1 1281.7,1116.6 1283.6,1115.7 1285.3,1114.6 1286.9,1113.2 1288.4,1111.8 1289.8,1110.3 1291.2,1108.9 1292.6,1107.4 1294.1,1105.9 1295.6,1104.4 1297.0,1103.0 1298.4,1101.5 1299.8,1100.0 1301.2,1098.4 1302.5,1096.8 1303.8,1095.1 1305.0,1093.5 1306.2,1091.8 1307.3,1090.1 1308.4,1088.3 1309.5,1086.4 1310.5,1084.6 1311.5,1082.8 1312.5,1080.8 1313.4,1079.0 1314.3,1077.1 1315.2,1075.2 1316.1,1073.3 1317.0,1071.2 1317.9,1069.2 1318.7,1067.3 1319.5,1065.4 1320.3,1063.5 1321.1,1061.5 1321.9,1059.5 1322.7,1057.5 1323.5,1055.5 1324.3,1053.4 1325.1,1051.3 1325.9,1049.2 1326.7,1047.1 1327.5,1045.0 1328.2,1043.1 1328.9,1041.2 1329.6,1039.3 1330.3,1037.4 1331.0,1035.5 1331.7,1033.5 1332.4,1031.6 1333.1,1029.7 1333.8,1027.7 1334.5,1025.8 1335.2,1023.9 1335.9,1021.9 1336.6,1020.0 1337.3,1018.1 1338.0,1016.1 1338.7,1014.2 1339.4,1012.3 1340.1,1010.4 1340.8,1008.5 1341.5,1006.6 1342.2,1004.7 1343.0,1002.6 1343.8,1000.5 1344.6,998.3 1345.4,996.3 1346.2,994.2 1347.0,992.2 1347.8,990.1 1348.6,988.1 1349.4,986.2 1350.2,984.2 1351.0,982.3 1351.8,980.3 1352.6,978.4 1353.4,976.6 1354.2,974.7 1355.0,972.9 1355.9,970.8 1356.8,968.8 1357.7,966.8 1358.6,964.8 1359.5,962.8 1360.4,960.9 1361.3,959.0 1362.2,957.1 1363.1,955.2 1364.0,953.3 1364.9,951.5 1365.8,949.7 1366.7,947.9 1367.7,945.9 1368.7,943.9 1369.7,942.0 1370.7,940.1 1371.7,938.2 1372.7,936.3 1373.7,934.5 1374.7,932.6 1375.7,930.8 1376.7,929.0 1377.7,927.2 1378.7,925.5 1379.7,923.7 1380.8,921.8 1381.9,919.9 1383.0,918.1 1384.1,916.2 1385.2,914.4 1386.3,912.6 1387.4,910.8 1388.5,909.0 1389.6,907.2 1390.7,905.5 1391.8,903.7 1392.9,902.0 1394.0,900.3 1395.1,898.6 1396.2,896.9 1397.4,895.1 1398.6,893.3 1399.8,891.5 1401.0,889.8 1402.2,888.0 1403.4,886.3 1404.6,884.6 1405.8,882.9 1407.0,881.3 1408.2,879.7 1409.4,878.1 1410.7,876.3 1412.0,874.6 1413.3,873.0 1414.6,871.3 1415.9,869.7 1417.2,868.1 1418.5,866.6 1419.8,865.1 1421.2,863.4 1422.6,861.9 1424.0,860.3 1425.4,858.8 1426.8,857.3 1428.2,855.9 1429.7,854.3 1431.2,852.9 1432.7,851.4 1434.2,850.0 1435.7,848.6 1437.2,847.3 1438.7,845.9 1440.3,844.5 1441.9,843.2 1443.5,841.9 1445.1,840.6 1446.7,839.3 1448.3,838.1 1449.9,836.9 1451.6,835.6 1453.3,834.4 1455.0,833.2 1456.7,832.0 1458.4,830.8 1460.1,829.7 1461.8,828.6 1463.5,827.5 1465.2,826.4 1466.9,825.3 1468.6,824.3 1470.4,823.2 1472.2,822.1 1474.0,821.0 1475.8,820.0 1477.6,818.9 1479.4,817.9 1481.2,816.9 1483.0,815.9 1484.8,814.9 1486.6,814.0 1488.4,813.0 1490.2,812.1 1492.0,811.2 1493.8,810.3 1495.6,809.4 1497.5,808.5 1499.4,807.6 1501.3,806.7 1503.2,805.8 1505.1,805.0 1507.0,804.2 1508.9,803.3 1510.8,802.5 1512.7,801.7 1514.6,801.0 1516.5,800.2 1518.4,799.5 1520.3,798.7 1522.2,798.0 1524.1,797.3 1526.0,796.6 1527.9,795.9 1529.8,795.3 1531.7,794.6 1533.6,794.0 1535.6,793.3 1537.6,792.7 1539.6,792.0 1541.6,791.4 1543.6,790.8 1545.6,790.2 1547.6,789.7 1549.6,789.1 1551.6,788.6 1553.6,788.0 1555.6,787.5 1557.6,787.0 1559.6,786.5 1561.6,786.0 1563.6,785.5 1565.6,785.1 1567.6,784.6 1569.6,784.2 1571.6,783.8 1573.6,783.3 1575.6,782.9 1577.6,782.5 1579.6,782.1 1581.6,781.8 1583.6,781.4 1585.6,781.0 1587.6,780.7 1589.6,780.4 1591.6,780.0 1593.6,779.7 1595.6,779.4 1597.6,779.1 1599.6,778.8 1601.6,778.5 1603.6,778.2 1605.6,778.0 1607.6,777.7 1609.6,777.5 1611.6,777.2 1613.6,777.0 1615.6,776.7 1617.6,776.5 1619.6,776.3 1621.6,776.1 1623.6,775.9 1625.6,775.7 1627.6,775.5 1629.6,775.3 1631.6,775.1 1633.6,774.9 1635.6,774.7 1637.6,774.6 1639.6,774.4 1641.6,774.2 1643.6,774.1 1645.6,773.9 1647.6,773.8 1649.6,773.6 1651.6,773.5 1653.6,773.4 1655.6,773.2 1657.6,773.1 1659.6,773.0 1661.6,772.8 1663.6,772.7 1665.6,772.6 1667.6,772.5 1669.6,772.3 1671.6,772.2 1673.6,772.1 1675.6,772.0 1677.6,771.9 1679.6,771.8 1681.6,771.7 1683.6,771.6 1685.6,771.5 1687.6,771.4 1689.6,771.3 1691.6,771.2 1693.6,771.1 1695.6,771.0 1697.6,770.9 1699.6,770.8 1701.6,770.8 1703.6,770.7 1705.6,770.6 1707.6,770.5 1709.6,770.4 1711.6,770.4 1713.6,770.3 1715.6,770.2 1717.6,770.1 1719.6,770.1 1721.6,770.0 1723.6,769.9 1725.6,769.9 1727.6,769.8 1729.6,769.8 1731.6,769.7 1733.6,769.6 1735.6,769.6 1737.6,769.5 1739.6,769.5 1741.6,769.4 1743.6,769.4 1745.6,769.3 1747.6,769.3 1749.6,769.2 1751.6,769.2 1753.6,769.2 1755.6,769.1 1757.6,769.1 1759.6,769.0 1761.6,769.0 1763.6,769.0 1765.6,768.9 1767.6,768.9 1769.6,768.9 1771.6,768.8 1773.6,768.8 1775.6,768.8 1777.6,768.8 1779.6,768.7 1781.6,768.7 1783.6,768.7 1785.6,768.7 1787.6,768.6 1789.6,768.6 1791.6,768.6 1793.6,768.6 1795.6,768.6 1797.6,768.5 1799.6,768.5 1801.6,768.5 1803.6,768.5 1805.6,768.5 1807.6,768.5 1809.6,768.5 1811.6,768.4 1813.6,768.4 1815.6,768.4 1817.6,768.4 1819.6,768.4 1821.6,768.4 1823.6,768.4 1825.6,768.4 1827.6,768.4 1829.6,768.4 1831.6,768.4 1833.6,768.4 1835.6,768.4 1837.6,768.4 1839.6,768.4 1841.6,768.4 1843.6,768.3 1845.6,768.3 1847.6,768.3 1849.6,768.3 1851.6,768.3 1853.6,768.3 1855.6,768.3 1857.6,768.3 1859.6,768.3 1861.6,768.3 1863.6,768.3 1865.6,768.3 1867.6,768.3 1869.6,768.3 1871.6,768.3 1873.6,768.4 1875.6,768.4 1877.6,768.4 1879.6,768.4 1881.6,768.4 1883.6,768.4 1885.6,768.4 1887.6,768.4 1889.6,768.4 1891.6,768.4 1893.6,768.4 1895.6,768.4 1897.6,768.4 1899.6,768.4 1901.6,768.4 1903.6,768.4 1905.6,768.4 1907.6,768.4 1909.6,768.4 1911.6,768.4 1913.6,768.4 1915.6,768.4 1917.6,768.4 1919.6,768.4 1921.6,768.4 1923.6,768.4 1925.6,768.4 1927.6,768.4 1929.6,768.4 1931.6,768.3 1933.6,768.3 1935.0,768.3" stroke="#F14040" stroke-width="6.6" fill="none" stroke-linejoin="round" stroke-linecap="butt"/>
<path d="M210.0,811.6 212.0,811.6 214.0,811.6 216.0,811.6 218.0,811.5 220.0,811.5 222.0,811.5 224.0,811.5 226.0,811.5 228.0,811.5 230.0,811.5 232.0,811.4 234.0,811.4 236.0,811.4 238.0,811.4 240.0,811.4 242.0,811.4 244.0,811.4 246.0,811.4 248.0,811.3 250.0,811.3 252.0,811.3 254.0,811.3 256.0,811.3 258.0,811.3 260.0,811.3 262.0,811.3 264.0,811.3 266.0,811.3 268.0,811.2 270.0,811.2 272.0,811.2 274.0,811.2 276.0,811.2 278.0,811.2 280.0,811.2 282.0,811.2 284.0,811.2 286.0,811.2 288.0,811.2 290.0,811.2 292.0,811.1 294.0,811.1 296.0,811.1 298.0,811.1 300.0,811.1 302.0,811.1 304.0,811.1 306.0,811.1 308.0,811.1 310.0,811.1 312.0,811.1 314.0,811.1 316.0,811.1 318.0,811.1 320.0,811.1 322.0,811.1 324.0,811.0 326.0,811.0 328.0,811.0 330.0,811.0 332.0,811.0 334.0,811.0 336.0,811.0 338.0,811.0 340.0,811.0 342.0,811.0 344.0,811.0 346.0,811.0 348.0,811.0 350.0,811.0 352.0,811.0 354.0,810.9 356.0,810.9 358.0,810.9 360.0,810.9 362.0,810.9 364.0,810.9 366.0,810.9 368.0,810.9 370.0,810.9 372.0,810.9 374.0,810.9 376.0,810.9 378.0,810.8 380.0,810.8 382.0,810.8 384.0,810.8 386.0,810.8 388.0,810.8 390.0,810.8 392.0,810.8 394.0,810.8 396.0,810.8 398.0,810.7 400.0,810.7 402.0,810.7 404.0,810.7 406.0,810.7 408.0,810.7 410.0,810.7 412.0,810.7 414.0,810.6 416.0,810.6 418.0,810.6 420.0,810.6 422.0,810.6 424.0,810.6 426.0,810.5 428.0,810.5 430.0,810.5 432.0,810.5 434.0,810.5 436.0,810.5 438.0,810.4 440.0,810.4 442.0,810.4 444.0,810.4 446.0,810.4 448.0,810.3 450.0,810.3 452.0,810.3 454.0,810.3 456.0,810.3 458.0,810.2 460.0,810.2 462.0,810.2 464.0,810.2 466.0,810.1 468.0,810.1 470.0,810.1 472.0,810.1 474.0,810.0 476.0,810.0 478.0,810.0 480.0,809.9 482.0,809.9 484.0,809.9 486.0,809.9 488.0,809.8 490.0,809.8 492.0,809.8 494.0,809.7 496.0,809.7 498.0,809.7 500.0,809.6 502.0,809.6 504.0,809.6 506.0,809.5 508.0,809.5 510.0,809.4 512.0,809.4 514.0,809.4 516.0,809.3 518.0,809.3 520.0,809.2 522.0,809.2 524.0,809.2 526.0,809.1 528.0,809.1 530.0,809.0 532.0,809.0 534.0,808.9 536.0,808.9 538.0,808.8 540.0,808.8 542.0,808.7 544.0,808.7 546.0,808.6 548.0,808.6 550.0,808.5 552.0,808.5 554.0,808.4 556.0,808.4 558.0,808.3 560.0,808.3 562.0,808.2 564.0,808.1 566.0,808.1 568.0,808.0 570.0,807.9 572.0,807.9 574.0,807.8 576.0,807.7 578.0,807.6 580.0,807.6 582.0,807.5 584.0,807.4 586.0,807.3 588.0,807.2 590.0,807.1 592.0,807.0 594.0,806.9 596.0,806.8 598.0,806.7 600.0,806.6 602.0,806.5 604.0,806.4 606.0,806.2 608.0,806.1 610.0,806.0 612.0,805.8 614.0,805.7 616.0,805.6 618.0,805.4 620.0,805.3 622.0,805.1 624.0,804.9 626.0,804.8 628.0,804.6 630.0,804.4 632.0,804.2 634.0,804.0 636.0,803.9 638.0,803.7 640.0,803.5 642.0,803.3 644.0,803.0 646.0,802.8 648.0,802.6 650.0,802.4 652.0,802.2 654.0,801.9 656.0,801.7 658.0,801.5 660.0,801.2 662.0,801.0 664.0,800.7 666.0,800.5 668.0,800.2 670.0,800.0 672.0,799.7 674.0,799.4 676.0,799.1 678.0,798.9 680.0,798.6 682.0,798.3 684.0,798.0 686.0,797.7 688.0,797.4 690.0,797.1 692.0,796.7 694.0,796.4 696.0,796.1 698.0,795.7 700.0,795.4 702.0,795.0 704.0,794.6 706.0,794.2 708.0,793.8 710.0,793.4 712.0,793.0 714.0,792.6 716.0,792.1 718.0,791.7 720.0,791.2 722.0,790.7 724.0,790.3 726.0,789.8 728.0,789.2 730.0,788.7 732.0,788.2 734.0,787.6 736.0,787.0 738.0,786.4 740.0,785.8 742.0,785.2 744.0,784.6 746.0,783.9 747.9,783.3 749.8,782.7 751.7,782.0 753.6,781.3 755.5,780.6 757.4,779.9 759.3,779.2 761.2,778.4 763.1,777.7 765.0,776.9 766.9,776.1 768.8,775.2 770.7,774.3 772.5,773.4 774.3,772.5 776.1,771.5 777.9,770.5 779.7,769.4 781.4,768.3 783.1,767.2 784.8,766.0 786.5,764.7 788.1,763.4 789.7,762.1 791.3,760.7 792.8,759.4 794.3,758.0 795.8,756.6 797.3,755.2 798.8,753.9 800.3,752.6 801.9,751.2 803.5,749.9 805.1,748.6 806.7,747.4 808.4,746.1 810.1,744.9 811.8,743.7 813.5,742.5 815.2,741.3 816.9,740.2 818.6,739.0 820.3,737.8 822.0,736.7 823.7,735.5 825.4,734.4 827.1,733.2 828.8,732.0 830.5,730.8 832.2,729.7 833.9,728.5 835.6,727.3 837.3,726.1 839.0,724.9 840.7,723.7 842.4,722.5 844.1,721.2 845.8,720.0 847.5,718.8 849.2,717.5 850.9,716.2 852.5,715.0 854.1,713.8 855.7,712.6 857.3,711.4 858.9,710.1 860.5,708.8 862.1,707.6 863.7,706.3 865.3,705.0 866.9,703.7 868.5,702.3 870.1,701.0 871.7,699.6 873.3,698.3 874.9,696.9 876.5,695.5 878.1,694.1 879.7,692.8 881.3,691.4 882.9,690.0 884.5,688.6 886.1,687.2 887.7,685.9 889.3,684.5 890.9,683.2 892.5,681.8 894.1,680.5 895.7,679.2 897.3,677.9 898.9,676.5 900.5,675.2 902.1,673.9 903.7,672.6 905.3,671.3 906.9,670.0 908.5,668.7 910.1,667.4 911.7,666.1 913.3,664.8 914.9,663.5 916.5,662.2 918.1,660.9 919.7,659.6 921.3,658.3 922.9,657.0 924.5,655.7 926.1,654.4 927.7,653.1 929.3,651.7 930.9,650.4 932.5,649.0 934.1,647.6 935.6,646.3 937.1,644.9 938.6,643.5 940.1,642.1 941.6,640.7 943.1,639.2 944.6,637.7 946.0,636.3 947.4,634.8 948.8,633.3 950.2,631.8 951.6,630.2 953.0,628.5 954.3,627.0 955.6,625.4 956.9,623.8 958.2,622.1 959.5,620.4 960.7,618.8 961.9,617.1 963.1,615.4 964.3,613.7 965.5,611.9 966.7,610.1 967.8,608.4 968.9,606.7 970.0,605.0 971.1,603.2 972.2,601.4 973.3,599.6 974.4,597.8 975.5,595.9 976.6,594.0 977.6,592.3 978.6,590.5 979.6,588.8 980.6,587.0 981.6,585.2 982.6,583.3 983.6,581.5 984.6,579.6 985.6,577.8 986.6,575.9 987.6,573.9 988.6,572.0 989.6,570.1 990.6,568.1 991.6,566.2 992.5,564.4 993.4,562.6 994.3,560.8 995.2,558.9 996.1,557.1 997.0,555.3 997.9,553.4 998.8,551.6 999.7,549.7 1000.6,547.8 1001.5,545.9 1002.4,544.0 1003.3,542.1 1004.2,540.2 1005.1,538.3 1006.0,536.4 1006.9,534.4 1007.8,532.5 1008.7,530.5 1009.6,528.6 1010.5,526.6 1011.4,524.7 1012.3,522.7 1013.2,520.7 1014.1,518.7 1015.0,516.7 1015.9,514.8 1016.8,512.8 1017.7,510.8 1018.6,508.7 1019.5,506.7 1020.4,504.7 1021.3,502.7 1022.2,500.7 1023.1,498.7 1024.0,496.7 1024.9,494.6 1025.8,492.6 1026.7,490.6 1027.6,488.5 1028.5,486.5 1029.4,484.5 1030.3,482.5 1031.2,480.4 1032.1,478.4 1033.0,476.4 1033.9,474.3 1034.8,472.3 1035.7,470.2 1036.6,468.2 1037.5,466.1 1038.4,464.1 1039.3,462.0 1040.2,460.0 1041.0,458.1 1041.8,456.3 1042.6,454.5 1043.4,452.6 1044.2,450.8 1045.0,448.9 1045.8,447.0 1046.6,445.2 1047.4,443.3 1048.2,441.4 1049.0,439.5 1049.8,437.6 1050.6,435.7 1051.4,433.8 1052.2,431.9 1053.0,430.0 1053.8,428.0 1054.6,426.1 1055.4,424.2 1056.2,422.2 1057.0,420.3 1057.8,418.3 1058.6,416.3 1059.4,414.4 1060.2,412.4 1061.0,410.4 1061.8,408.4 1062.6,406.5 1063.4,404.5 1064.2,402.5 1065.0,400.5 1065.8,398.5 1066.6,396.5 1067.4,394.5 1068.2,392.4 1069.0,390.4 1069.8,388.4 1070.6,386.4 1071.4,384.4 1072.2,382.3 1073.0,380.3 1073.8,378.3 1074.6,376.3 1075.4,374.2 1076.2,372.2 1077.0,370.1 1077.8,368.1 1078.6,366.1 1079.4,364.0 1080.2,362.0 1081.0,360.0 1081.8,357.9 1082.6,355.9 1083.4,353.8 1084.2,351.8 1085.0,349.7 1085.8,347.7 1086.6,345.6 1087.4,343.6 1088.2,341.5 1089.0,339.5 1089.8,337.4 1090.6,335.4 1091.4,333.3 1092.2,331.2 1093.0,329.1 1093.8,327.1 1094.6,325.0 1095.4,322.9 1096.2,320.8 1097.0,318.7 1097.8,316.6 1098.6,314.4 1099.4,312.3 1100.2,310.2 1101.0,308.0 1101.8,305.9 1102.6,303.8 1103.4,301.7 1104.2,299.6 1105.0,297.6 1105.8,295.7 1106.6,293.9 1107.5,291.9 1108.4,290.1 1109.4,288.3 1110.5,286.6 1111.8,285.0 1113.4,283.7 1115.4,283.2 1117.3,283.8 1118.9,285.2 1120.2,286.9 1121.3,288.7 1122.3,290.7 1123.2,292.7 1124.0,294.6 1124.8,296.7 1125.5,298.7 1126.2,300.9 1126.8,302.8 1127.4,304.8 1128.0,307.0 1128.6,309.2 1129.2,311.5 1129.7,313.5 1130.2,315.5 1130.7,317.6 1131.2,319.8 1131.7,322.0 1132.2,324.3 1132.7,326.7 1133.2,329.1 1133.6,331.1 1134.0,333.1 1134.4,335.2 1134.8,337.2 1135.2,339.4 1135.6,341.5 1136.0,343.7 1136.4,346.0 1136.8,348.2 1137.2,350.5 1137.6,352.9 1138.0,355.3 1138.4,357.7 1138.8,360.1 1139.2,362.6 1139.6,365.1 1140.0,367.6 1140.4,370.2 1140.8,372.8 1141.2,375.4 1141.5,377.4 1141.8,379.4 1142.1,381.4 1142.4,383.4 1142.7,385.5 1143.0,387.5 1143.3,389.6 1143.6,391.6 1143.9,393.7 1144.2,395.8 1144.5,397.9 1144.8,400.0 1145.1,402.0 1145.4,404.2 1145.7,406.3 1146.0,408.4 1146.3,410.5 1146.6,412.6 1146.9,414.7 1147.2,416.8 1147.5,419.0 1147.8,421.1 1148.1,423.2 1148.4,425.3 1148.7,427.4 1149.0,429.6 1149.3,431.7 1149.6,433.8 1149.9,435.9 1150.2,438.0 1150.5,440.1 1150.8,442.3 1151.1,444.4 1151.4,446.5 1151.7,448.6 1152.0,450.7 1152.3,452.8 1152.6,454.9 1152.9,457.0 1153.2,459.1 1153.5,461.2 1153.8,463.3 1154.1,465.4 1154.4,467.5 1154.7,469.6 1155.0,471.7 1155.3,473.8 1155.6,475.9 1155.9,478.0 1156.2,480.1 1156.5,482.2 1156.8,484.3 1157.1,486.4 1157.4,488.5 1157.7,490.5 1158.0,492.6 1158.3,494.7 1158.6,496.8 1158.9,498.9 1159.2,501.0 1159.5,503.0 1159.8,505.1 1160.1,507.2 1160.4,509.3 1160.7,511.3 1161.0,513.4 1161.3,515.5 1161.6,517.5 1161.9,519.6 1162.2,521.7 1162.5,523.7 1162.8,525.8 1163.1,527.8 1163.4,529.9 1163.7,531.9 1164.0,534.0 1164.3,536.0 1164.6,538.1 1164.9,540.1 1165.2,542.1 1165.5,544.2 1165.8,546.2 1166.1,548.2 1166.4,550.2 1166.7,552.3 1167.0,554.3 1167.3,556.3 1167.6,558.3 1167.9,560.3 1168.2,562.3 1168.5,564.3 1168.8,566.3 1169.1,568.2 1169.5,570.9 1169.9,573.5 1170.3,576.1 1170.7,578.7 1171.1,581.3 1171.5,583.9 1171.9,586.4 1172.3,589.0 1172.7,591.5 1173.1,594.1 1173.5,596.6 1173.9,599.1 1174.3,601.6 1174.7,604.1 1175.1,606.5 1175.5,609.0 1175.9,611.4 1176.3,613.8 1176.7,616.2 1177.1,618.6 1177.5,621.0 1177.9,623.3 1178.3,625.7 1178.7,628.0 1179.1,630.3 1179.5,632.6 1179.9,634.9 1180.3,637.2 1180.7,639.4 1181.1,641.7 1181.5,643.9 1181.9,646.1 1182.3,648.4 1182.7,650.6 1183.1,652.7 1183.5,654.9 1183.9,657.1 1184.3,659.2 1184.7,661.4 1185.1,663.5 1185.5,665.6 1185.9,667.7 1186.3,669.8 1186.7,671.9 1187.1,673.9 1187.5,676.0 1187.9,678.0 1188.3,680.0 1188.7,682.1 1189.1,684.1 1189.5,686.1 1189.9,688.1 1190.3,690.0 1190.7,692.0 1191.2,694.4 1191.7,696.9 1192.2,699.3 1192.7,701.7 1193.2,704.0 1193.7,706.4 1194.2,708.7 1194.7,711.0 1195.2,713.3 1195.7,715.6 1196.2,717.9 1196.7,720.1 1197.2,722.4 1197.7,724.6 1198.2,726.8 1198.7,728.9 1199.2,731.1 1199.7,733.3 1200.2,735.4 1200.7,737.5 1201.2,739.6 1201.7,741.7 1202.2,743.7 1202.7,745.8 1203.2,747.8 1203.7,749.8 1204.2,751.8 1204.7,753.8 1205.2,755.8 1205.7,757.7 1206.3,760.0 1206.9,762.3 1207.5,764.6 1208.1,766.8 1208.7,769.0 1209.3,771.2 1209.9,773.4 1210.5,775.5 1211.1,777.7 1211.7,779.8 1212.3,781.8 1212.9,783.9 1213.5,785.9 1214.1,787.9 1214.7,789.9 1215.3,791.9 1215.9,793.8 1216.5,795.8 1217.2,798.0 1217.9,800.1 1218.6,802.3 1219.3,804.4 1220.0,806.5 1220.7,808.6 1221.4,810.6 1222.1,812.6 1222.8,814.5 1223.5,816.5 1224.2,818.4 1224.9,820.3 1225.7,822.4 1226.5,824.4 1227.3,826.5 1228.1,828.5 1228.9,830.4 1229.7,832.3 1230.5,834.2 1231.3,836.1 1232.2,838.1 1233.1,840.1 1234.0,842.0 1234.9,843.9 1235.8,845.8 1236.7,847.6 1237.7,849.5 1238.7,851.4 1239.7,853.3 1240.7,855.0 1241.7,856.8 1242.8,858.6 1243.9,860.4 1245.0,862.1 1246.2,864.0 1247.4,865.7 1248.6,867.4 1249.9,869.1 1251.2,870.7 1252.5,872.3 1253.9,873.9 1255.3,875.4 1256.7,876.9 1258.2,878.3 1259.7,879.7 1261.3,881.0 1263.0,882.3 1264.7,883.4 1266.5,884.3 1268.4,885.2 1270.3,885.9 1272.3,886.5 1274.3,887.0 1276.3,887.4 1278.3,887.8 1280.3,888.0 1282.3,888.1 1284.3,888.2 1286.3,888.1 1288.3,888.0 1290.3,887.8 1292.3,887.6 1294.3,887.2 1296.3,886.8 1298.3,886.4 1300.3,885.8 1302.3,885.2 1304.3,884.6 1306.2,884.0 1308.1,883.3 1310.0,882.6 1311.9,881.8 1313.8,881.0 1315.7,880.2 1317.6,879.4 1319.5,878.5 1321.4,877.6 1323.3,876.7 1325.2,875.8 1327.0,874.9 1328.8,874.0 1330.6,873.2 1332.4,872.3 1334.2,871.4 1336.0,870.5 1337.8,869.6 1339.7,868.7 1341.6,867.8 1343.5,866.9 1345.4,866.0 1347.3,865.2 1349.2,864.3 1351.1,863.5 1353.0,862.7 1354.9,861.9 1356.8,861.1 1358.7,860.3 1360.6,859.6 1362.5,858.8 1364.4,858.1 1366.3,857.4 1368.2,856.7 1370.1,856.0 1372.0,855.4 1373.9,854.7 1375.8,854.1 1377.7,853.4 1379.7,852.8 1381.7,852.1 1383.7,851.5 1385.7,850.9 1387.7,850.3 1389.7,849.7 1391.7,849.1 1393.7,848.6 1395.7,848.0 1397.7,847.5 1399.7,846.9 1401.7,846.4 1403.7,845.9 1405.7,845.4 1407.7,844.9 1409.7,844.4 1411.7,844.0 1413.7,843.5 1415.7,843.1 1417.7,842.6 1419.7,842.2 1421.7,841.8 1423.7,841.4 1425.7,841.0 1427.7,840.6 1429.7,840.2 1431.7,839.8 1433.7,839.4 1435.7,839.0 1437.7,838.7 1439.7,838.3 1441.7,838.0 1443.7,837.6 1445.7,837.3 1447.7,837.0 1449.7,836.6 1451.7,836.3 1453.7,836.0 1455.7,835.7 1457.7,835.4 1459.7,835.1 1461.7,834.8 1463.7,834.5 1465.7,834.2 1467.7,833.9 1469.7,833.6 1471.7,833.3 1473.7,833.0 1475.7,832.8 1477.7,832.5 1479.7,832.2 1481.7,831.9 1483.7,831.7 1485.7,831.4 1487.7,831.2 1489.7,830.9 1491.7,830.6 1493.7,830.4 1495.7,830.2 1497.7,829.9 1499.7,829.7 1501.7,829.4 1503.7,829.2 1505.7,829.0 1507.7,828.7 1509.7,828.5 1511.7,828.3 1513.7,828.0 1515.7,827.8 1517.7,827.6 1519.7,827.4 1521.7,827.2 1523.7,827.0 1525.7,826.8 1527.7,826.6 1529.7,826.4 1531.7,826.2 1533.7,826.0 1535.7,825.8 1537.7,825.6 1539.7,825.4 1541.7,825.2 1543.7,825.0 1545.7,824.9 1547.7,824.7 1549.7,824.5 1551.7,824.3 1553.7,824.2 1555.7,824.0 1557.7,823.8 1559.7,823.7 1561.7,823.5 1563.7,823.3 1565.7,823.2 1567.7,823.0 1569.7,822.9 1571.7,822.7 1573.7,822.6 1575.7,822.4 1577.7,822.3 1579.7,822.1 1581.7,822.0 1583.7,821.9 1585.7,821.7 1587.7,821.6 1589.7,821.5 1591.7,821.3 1593.7,821.2 1595.7,821.1 1597.7,821.0 1599.7,820.9 1601.7,820.7 1603.7,820.6 1605.7,820.5 1607.7,820.4 1609.7,820.3 1611.7,820.2 1613.7,820.1 1615.7,820.0 1617.7,819.9 1619.7,819.8 1621.7,819.7 1623.7,819.6 1625.7,819.5 1627.7,819.4 1629.7,819.3 1631.7,819.2 1633.7,819.1 1635.7,819.0 1637.7,818.9 1639.7,818.8 1641.7,818.8 1643.7,818.7 1645.7,818.6 1647.7,818.5 1649.7,818.4 1651.7,818.4 1653.7,818.3 1655.7,818.2 1657.7,818.2 1659.7,818.1 1661.7,818.0 1663.7,818.0 1665.7,817.9 1667.7,817.8 1669.7,817.8 1671.7,817.7 1673.7,817.7 1675.7,817.6 1677.7,817.5 1679.7,817.5 1681.7,817.4 1683.7,817.4 1685.7,817.3 1687.7,817.3 1689.7,817.2 1691.7,817.2 1693.7,817.2 1695.7,817.1 1697.7,817.1 1699.7,817.0 1701.7,817.0 1703.7,816.9 1705.7,816.9 1707.7,816.9 1709.7,816.8 1711.7,816.8 1713.7,816.8 1715.7,816.7 1717.7,816.7 1719.7,816.7 1721.7,816.6 1723.7,816.6 1725.7,816.6 1727.7,816.5 1729.7,816.5 1731.7,816.5 1733.7,816.5 1735.7,816.4 1737.7,816.4 1739.7,816.4 1741.7,816.4 1743.7,816.4 1745.7,816.3 1747.7,816.3 1749.7,816.3 1751.7,816.3 1753.7,816.3 1755.7,816.2 1757.7,816.2 1759.7,816.2 1761.7,816.2 1763.7,816.2 1765.7,816.2 1767.7,816.2 1769.7,816.1 1771.7,816.1 1773.7,816.1 1775.7,816.1 1777.7,816.1 1779.7,816.1 1781.7,816.1 1783.7,816.1 1785.7,816.1 1787.7,816.0 1789.7,816.0 1791.7,816.0 1793.7,816.0 1795.7,816.0 1797.7,816.0 1799.7,816.0 1801.7,816.0 1803.7,816.0 1805.7,816.0 1807.7,816.0 1809.7,816.0 1811.7,816.0 1813.7,816.0 1815.7,816.0 1817.7,816.0 1819.7,815.9 1821.7,815.9 1823.7,815.9 1825.7,815.9 1827.7,815.9 1829.7,815.9 1831.7,815.9 1833.7,815.9 1835.7,815.9 1837.7,815.9 1839.7,815.9 1841.7,815.9 1843.7,815.9 1845.7,815.9 1847.7,815.9 1849.7,815.9 1851.7,815.9 1853.7,815.9 1855.7,815.9 1857.7,815.8 1859.7,815.8 1861.7,815.8 1863.7,815.8 1865.7,815.8 1867.7,815.8 1869.7,815.8 1871.7,815.8 1873.7,815.8 1875.7,815.8 1877.7,815.8 1879.7,815.8 1881.7,815.7 1883.7,815.7 1885.7,815.7 1887.7,815.7 1889.7,815.7 1891.7,815.7 1893.7,815.7 1895.7,815.7 1897.7,815.6 1899.7,815.6 1901.7,815.6 1903.7,815.6 1905.7,815.6 1907.7,815.6 1909.7,815.5 1911.7,815.5 1913.7,815.5 1915.7,815.5 1917.7,815.5 1919.7,815.4 1921.7,815.4 1923.7,815.4 1925.7,815.4 1927.7,815.3 1929.7,815.3 1931.7,815.3 1933.7,815.2 1935.0,815.2" stroke="#1A6FDF" stroke-width="6.6" fill="none" stroke-linejoin="round" stroke-linecap="butt"/>
<path d="M210.0,806.4 212.0,806.4 214.0,806.4 216.0,806.4 218.0,806.4 220.0,806.5 222.0,806.5 224.0,806.5 226.0,806.5 228.0,806.5 230.0,806.5 232.0,806.5 234.0,806.5 236.0,806.5 238.0,806.5 240.0,806.5 242.0,806.5 244.0,806.5 246.0,806.5 248.0,806.5 250.0,806.5 252.0,806.4 254.0,806.4 256.0,806.4 258.0,806.4 260.0,806.4 262.0,806.4 264.0,806.4 266.0,806.4 268.0,806.4 270.0,806.4 272.0,806.3 274.0,806.3 276.0,806.3 278.0,806.3 280.0,806.3 282.0,806.3 284.0,806.3 286.0,806.2 288.0,806.2 290.0,806.2 292.0,806.2 294.0,806.2 296.0,806.2 298.0,806.1 300.0,806.1 302.0,806.1 304.0,806.1 306.0,806.1 308.0,806.0 310.0,806.0 312.0,806.0 314.0,806.0 316.0,806.0 318.0,806.0 320.0,805.9 322.0,805.9 324.0,805.9 326.0,805.9 328.0,805.9 330.0,805.8 332.0,805.8 334.0,805.8 336.0,805.8 338.0,805.8 340.0,805.8 342.0,805.7 344.0,805.7 346.0,805.7 348.0,805.7 350.0,805.7 352.0,805.7 354.0,805.6 356.0,805.6 358.0,805.6 360.0,805.6 362.0,805.6 364.0,805.6 366.0,805.5 368.0,805.5 370.0,805.5 372.0,805.5 374.0,805.5 376.0,805.5 378.0,805.5 380.0,805.5 382.0,805.4 384.0,805.4 386.0,805.4 388.0,805.4 390.0,805.4 392.0,805.4 394.0,805.4 396.0,805.3 398.0,805.3 400.0,805.3 402.0,805.3 404.0,805.3 406.0,805.3 408.0,805.3 410.0,805.3 412.0,805.3 414.0,805.2 416.0,805.2 418.0,805.2 420.0,805.2 422.0,805.2 424.0,805.2 426.0,805.2 428.0,805.2 430.0,805.2 432.0,805.1 434.0,805.1 436.0,805.1 438.0,805.1 440.0,805.1 442.0,805.1 444.0,805.1 446.0,805.1 448.0,805.0 450.0,805.0 452.0,805.0 454.0,805.0 456.0,805.0 458.0,805.0 460.0,805.0 462.0,805.0 464.0,805.0 466.0,804.9 468.0,804.9 470.0,804.9 472.0,804.9 474.0,804.9 476.0,804.9 478.0,804.9 480.0,804.9 482.0,804.8 484.0,804.8 486.0,804.8 488.0,804.8 490.0,804.8 492.0,804.8 494.0,804.8 496.0,804.7 498.0,804.7 500.0,804.7 502.0,804.7 504.0,804.7 506.0,804.7 508.0,804.6 510.0,804.6 512.0,804.6 514.0,804.6 516.0,804.6 518.0,804.5 520.0,804.5 522.0,804.5 524.0,804.5 526.0,804.4 528.0,804.4 530.0,804.4 532.0,804.4 534.0,804.3 536.0,804.3 538.0,804.3 540.0,804.2 542.0,804.2 544.0,804.2 546.0,804.1 548.0,804.1 550.0,804.0 552.0,804.0 554.0,803.9 556.0,803.9 558.0,803.8 560.0,803.8 562.0,803.7 564.0,803.7 566.0,803.6 568.0,803.6 570.0,803.5 572.0,803.4 574.0,803.4 576.0,803.3 578.0,803.2 580.0,803.1 582.0,803.1 584.0,803.0 586.0,802.9 588.0,802.8 590.0,802.7 592.0,802.6 594.0,802.5 596.0,802.4 598.0,802.3 600.0,802.2 602.0,802.1 604.0,802.0 606.0,801.9 608.0,801.8 610.0,801.6 612.0,801.5 614.0,801.4 616.0,801.3 618.0,801.1 620.0,801.0 622.0,800.8 624.0,800.7 626.0,800.5 628.0,800.4 630.0,800.2 632.0,800.1 634.0,799.9 636.0,799.7 638.0,799.6 640.0,799.4 642.0,799.2 644.0,799.0 646.0,798.8 648.0,798.6 650.0,798.4 652.0,798.2 654.0,798.0 656.0,797.7 658.0,797.5 660.0,797.3 662.0,797.0 664.0,796.8 666.0,796.5 668.0,796.2 670.0,796.0 672.0,795.7 674.0,795.4 676.0,795.1 678.0,794.8 680.0,794.5 682.0,794.1 684.0,793.8 686.0,793.5 688.0,793.1 690.0,792.8 692.0,792.4 694.0,792.0 696.0,791.6 698.0,791.2 700.0,790.8 702.0,790.4 704.0,790.0 706.0,789.6 708.0,789.1 710.0,788.7 712.0,788.2 714.0,787.7 716.0,787.2 718.0,786.7 720.0,786.2 722.0,785.7 724.0,785.2 726.0,784.6 728.0,784.1 730.0,783.5 732.0,782.9 734.0,782.3 736.0,781.7 738.0,781.1 740.0,780.4 742.0,779.8 743.9,779.2 745.8,778.5 747.7,777.9 749.6,777.2 751.5,776.5 753.4,775.8 755.3,775.1 757.2,774.4 759.1,773.7 761.0,772.9 762.9,772.2 764.8,771.4 766.7,770.6 768.6,769.8 770.5,769.0 772.4,768.2 774.3,767.3 776.2,766.5 778.1,765.6 780.0,764.7 781.9,763.8 783.8,762.9 785.6,762.0 787.4,761.1 789.2,760.2 791.0,759.3 792.8,758.3 794.6,757.4 796.4,756.4 798.2,755.4 800.0,754.5 801.8,753.4 803.6,752.4 805.4,751.4 807.2,750.3 809.0,749.3 810.8,748.2 812.6,747.1 814.3,746.0 816.0,744.9 817.7,743.9 819.4,742.8 821.1,741.7 822.8,740.5 824.5,739.4 826.2,738.2 827.9,737.1 829.6,735.9 831.3,734.7 833.0,733.5 834.7,732.2 836.4,731.0 838.1,729.7 839.8,728.5 841.4,727.3 843.0,726.1 844.6,724.8 846.2,723.6 847.8,722.3 849.4,721.1 851.0,719.8 852.6,718.5 854.2,717.3 855.8,716.0 857.4,714.7 859.0,713.4 860.6,712.1 862.2,710.8 863.8,709.5 865.4,708.1 867.0,706.8 868.6,705.5 870.2,704.2 871.8,702.8 873.4,701.5 875.0,700.2 876.6,698.8 878.2,697.5 879.8,696.2 881.4,694.9 883.0,693.5 884.6,692.2 886.2,690.9 887.8,689.6 889.4,688.2 891.0,686.9 892.6,685.6 894.2,684.3 895.8,683.0 897.4,681.7 899.0,680.4 900.6,679.2 902.2,677.9 903.8,676.6 905.4,675.4 907.0,674.1 908.6,672.9 910.2,671.6 911.8,670.4 913.4,669.2 915.0,667.9 916.6,666.7 918.2,665.4 919.8,664.1 921.4,662.9 923.0,661.6 924.6,660.3 926.2,659.0 927.8,657.6 929.4,656.3 931.0,654.9 932.6,653.5 934.1,652.2 935.6,650.8 937.1,649.5 938.6,648.1 940.1,646.7 941.6,645.2 943.1,643.7 944.6,642.2 946.0,640.8 947.4,639.3 948.8,637.8 950.2,636.3 951.6,634.7 953.0,633.1 954.4,631.5 955.7,629.9 957.0,628.3 958.3,626.7 959.6,625.1 960.9,623.4 962.2,621.7 963.4,620.1 964.6,618.4 965.8,616.8 967.0,615.1 968.2,613.4 969.4,611.6 970.6,609.8 971.8,608.0 972.9,606.4 974.0,604.7 975.1,602.9 976.2,601.2 977.3,599.4 978.4,597.6 979.5,595.8 980.6,594.0 981.7,592.1 982.8,590.2 983.9,588.3 984.9,586.6 985.9,584.8 986.9,583.0 987.9,581.2 988.9,579.4 989.9,577.5 990.9,575.7 991.9,573.8 992.9,571.9 993.9,570.0 994.9,568.0 995.9,566.1 996.9,564.1 997.8,562.3 998.7,560.5 999.6,558.7 1000.5,556.8 1001.4,555.0 1002.3,553.1 1003.2,551.2 1004.1,549.3 1005.0,547.4 1005.9,545.5 1006.8,543.5 1007.7,541.6 1008.6,539.6 1009.5,537.6 1010.4,535.6 1011.3,533.6 1012.2,531.5 1013.1,529.5 1013.9,527.7 1014.7,525.8 1015.5,524.0 1016.3,522.1 1017.1,520.2 1017.9,518.3 1018.7,516.4 1019.5,514.5 1020.3,512.6 1021.1,510.7 1021.9,508.8 1022.7,506.9 1023.5,505.0 1024.3,503.1 1025.1,501.2 1025.9,499.3 1026.7,497.3 1027.5,495.4 1028.3,493.5 1029.1,491.6 1029.9,489.7 1030.7,487.8 1031.5,485.9 1032.3,484.1 1033.1,482.2 1033.9,480.3 1034.7,478.5 1035.5,476.6 1036.4,474.6 1037.3,472.5 1038.2,470.5 1039.1,468.5 1040.0,466.5 1040.9,464.6 1041.8,462.6 1042.7,460.6 1043.6,458.7 1044.5,456.7 1045.4,454.8 1046.3,452.9 1047.2,450.9 1048.1,449.0 1049.0,447.1 1049.9,445.1 1050.8,443.2 1051.7,441.2 1052.6,439.3 1053.5,437.3 1054.4,435.3 1055.3,433.3 1056.2,431.3 1057.1,429.3 1058.0,427.2 1058.8,425.4 1059.6,423.5 1060.4,421.7 1061.2,419.8 1062.0,417.9 1062.8,415.9 1063.6,414.0 1064.4,412.0 1065.2,410.0 1066.0,408.0 1066.8,405.9 1067.6,403.9 1068.4,401.8 1069.2,399.6 1069.9,397.7 1070.6,395.8 1071.3,393.8 1072.0,391.9 1072.7,389.9 1073.4,387.8 1074.1,385.8 1074.8,383.7 1075.5,381.6 1076.2,379.4 1076.9,377.3 1077.6,375.1 1078.3,372.9 1079.0,370.7 1079.7,368.5 1080.3,366.6 1080.9,364.6 1081.5,362.7 1082.1,360.8 1082.7,358.8 1083.3,356.8 1083.9,354.9 1084.5,352.9 1085.1,351.0 1085.7,349.0 1086.3,347.0 1086.9,345.1 1087.5,343.1 1088.1,341.1 1088.7,339.2 1089.3,337.2 1089.9,335.3 1090.5,333.4 1091.1,331.4 1091.7,329.5 1092.3,327.6 1093.0,325.4 1093.7,323.2 1094.4,321.0 1095.1,318.8 1095.8,316.7 1096.5,314.6 1097.2,312.5 1097.9,310.4 1098.6,308.4 1099.3,306.4 1100.0,304.4 1100.7,302.5 1101.4,300.6 1102.2,298.4 1103.0,296.4 1103.8,294.3 1104.6,292.4 1105.4,290.4 1106.2,288.6 1107.1,286.5 1108.0,284.6 1108.9,282.8 1109.9,280.8 1110.9,279.0 1112.0,277.2 1113.2,275.4 1114.5,273.7 1116.0,272.3 1117.7,271.2 1119.7,270.8 1121.6,271.4 1123.2,272.8 1124.5,274.5 1125.6,276.3 1126.5,278.2 1127.3,280.1 1128.1,282.2 1128.8,284.2 1129.4,286.1 1130.0,288.2 1130.6,290.4 1131.2,292.7 1131.7,294.7 1132.2,296.8 1132.7,299.0 1133.2,301.3 1133.7,303.7 1134.2,306.1 1134.6,308.1 1135.0,310.2 1135.4,312.3 1135.8,314.5 1136.2,316.7 1136.6,318.9 1137.0,321.2 1137.4,323.6 1137.8,325.9 1138.2,328.4 1138.6,330.8 1139.0,333.4 1139.4,335.9 1139.8,338.5 1140.2,341.1 1140.5,343.1 1140.8,345.2 1141.1,347.2 1141.4,349.3 1141.7,351.3 1142.0,353.4 1142.3,355.6 1142.6,357.7 1142.9,359.9 1143.2,362.0 1143.5,364.2 1143.8,366.5 1144.1,368.7 1144.4,370.9 1144.7,373.2 1145.0,375.5 1145.3,377.8 1145.6,380.1 1145.9,382.4 1146.2,384.7 1146.5,387.1 1146.8,389.5 1147.1,391.8 1147.4,394.2 1147.7,396.7 1148.0,399.1 1148.3,401.5 1148.6,404.0 1148.9,406.4 1149.2,408.9 1149.5,411.4 1149.8,413.9 1150.1,416.4 1150.4,418.9 1150.7,421.4 1151.0,423.9 1151.3,426.4 1151.6,429.0 1151.9,431.6 1152.2,434.1 1152.5,436.7 1152.8,439.3 1153.1,441.8 1153.4,444.4 1153.7,447.0 1154.0,449.6 1154.3,452.2 1154.6,454.9 1154.9,457.5 1155.2,460.1 1155.5,462.7 1155.8,465.3 1156.1,468.0 1156.4,470.6 1156.7,473.3 1157.0,475.9 1157.3,478.5 1157.6,481.2 1157.9,483.8 1158.2,486.5 1158.5,489.1 1158.8,491.8 1159.1,494.4 1159.4,497.0 1159.7,499.7 1160.0,502.3 1160.3,505.0 1160.6,507.6 1160.9,510.2 1161.2,512.9 1161.5,515.5 1161.8,518.1 1162.1,520.8 1162.4,523.4 1162.7,526.0 1163.0,528.6 1163.3,531.2 1163.6,533.8 1163.9,536.4 1164.2,539.0 1164.5,541.6 1164.8,544.1 1165.1,546.7 1165.4,549.3 1165.7,551.8 1166.0,554.4 1166.3,556.9 1166.6,559.5 1166.9,562.0 1167.2,564.5 1167.5,567.0 1167.8,569.5 1168.1,572.0 1168.4,574.5 1168.7,576.9 1169.0,579.4 1169.3,581.9 1169.6,584.3 1169.9,586.8 1170.2,589.2 1170.5,591.6 1170.8,594.0 1171.1,596.4 1171.4,598.8 1171.7,601.2 1172.0,603.5 1172.3,605.9 1172.6,608.2 1172.9,610.6 1173.2,612.9 1173.5,615.2 1173.8,617.5 1174.1,619.8 1174.4,622.1 1174.7,624.3 1175.0,626.6 1175.3,628.8 1175.6,631.1 1175.9,633.3 1176.2,635.5 1176.5,637.7 1176.8,639.8 1177.1,642.0 1177.4,644.1 1177.7,646.3 1178.0,648.4 1178.3,650.5 1178.6,652.6 1178.9,654.7 1179.2,656.7 1179.5,658.8 1179.8,660.8 1180.1,662.8 1180.4,664.8 1180.7,666.8 1181.1,669.4 1181.5,672.0 1181.9,674.6 1182.3,677.2 1182.7,679.7 1183.1,682.2 1183.5,684.6 1183.9,687.1 1184.3,689.5 1184.7,691.9 1185.1,694.2 1185.5,696.6 1185.9,698.9 1186.3,701.2 1186.7,703.5 1187.1,705.7 1187.5,707.9 1187.9,710.1 1188.3,712.3 1188.7,714.5 1189.1,716.6 1189.5,718.7 1189.9,720.8 1190.3,722.9 1190.7,724.9 1191.1,727.0 1191.5,729.0 1191.9,731.0 1192.3,733.0 1192.8,735.4 1193.3,737.8 1193.8,740.2 1194.3,742.5 1194.8,744.9 1195.3,747.2 1195.8,749.4 1196.3,751.7 1196.8,753.9 1197.3,756.1 1197.8,758.3 1198.3,760.4 1198.8,762.5 1199.3,764.6 1199.8,766.7 1200.3,768.8 1200.8,770.8 1201.3,772.8 1201.8,774.8 1202.3,776.8 1202.8,778.7 1203.3,780.7 1203.9,783.0 1204.5,785.3 1205.1,787.5 1205.7,789.8 1206.3,792.0 1206.9,794.2 1207.5,796.3 1208.1,798.5 1208.7,800.6 1209.3,802.7 1209.9,804.9 1210.5,806.9 1211.1,809.0 1211.7,811.1 1212.3,813.1 1212.9,815.2 1213.5,817.2 1214.1,819.2 1214.7,821.2 1215.3,823.1 1215.9,825.1 1216.5,827.0 1217.1,829.0 1217.8,831.2 1218.5,833.4 1219.2,835.6 1219.9,837.7 1220.6,839.9 1221.3,842.0 1222.0,844.0 1222.7,846.1 1223.4,848.1 1224.1,850.1 1224.8,852.1 1225.5,854.1 1226.2,856.0 1226.9,857.9 1227.7,860.0 1228.5,862.1 1229.3,864.2 1230.1,866.2 1230.9,868.2 1231.7,870.2 1232.5,872.1 1233.3,873.9 1234.2,876.0 1235.1,878.0 1236.0,880.0 1236.9,881.9 1237.8,883.7 1238.7,885.5 1239.7,887.4 1240.7,889.3 1241.7,891.1 1242.8,893.0 1243.9,894.8 1245.0,896.5 1246.2,898.3 1247.4,900.0 1248.6,901.6 1249.9,903.2 1251.2,904.8 1252.6,906.3 1254.0,907.7 1255.5,909.1 1257.1,910.5 1258.7,911.7 1260.4,912.9 1262.2,914.0 1264.0,914.9 1265.9,915.8 1267.8,916.4 1269.8,917.0 1271.8,917.4 1273.8,917.7 1275.8,917.8 1277.8,917.8 1279.8,917.7 1281.8,917.5 1283.8,917.2 1285.8,916.8 1287.8,916.3 1289.8,915.7 1291.7,915.1 1293.6,914.4 1295.5,913.6 1297.4,912.8 1299.3,911.9 1301.1,911.0 1302.9,910.0 1304.7,909.0 1306.5,908.0 1308.3,906.9 1310.1,905.8 1311.8,904.7 1313.5,903.6 1315.2,902.4 1316.9,901.3 1318.6,900.1 1320.3,898.9 1322.0,897.7 1323.7,896.5 1325.4,895.3 1327.1,894.0 1328.8,892.8 1330.5,891.6 1332.2,890.4 1333.9,889.1 1335.6,887.9 1337.3,886.7 1339.0,885.5 1340.7,884.3 1342.4,883.2 1344.1,882.0 1345.8,880.9 1347.5,879.8 1349.2,878.7 1351.0,877.6 1352.8,876.5 1354.6,875.5 1356.4,874.4 1358.2,873.4 1360.0,872.4 1361.8,871.4 1363.6,870.5 1365.4,869.5 1367.2,868.6 1369.0,867.7 1370.8,866.8 1372.7,865.9 1374.6,865.0 1376.5,864.1 1378.4,863.2 1380.3,862.4 1382.2,861.6 1384.1,860.7 1386.0,859.9 1387.9,859.1 1389.8,858.3 1391.7,857.6 1393.6,856.8 1395.5,856.1 1397.4,855.3 1399.3,854.6 1401.2,853.8 1403.1,853.1 1405.0,852.4 1406.9,851.7 1408.8,851.0 1410.7,850.3 1412.6,849.7 1414.5,849.0 1416.4,848.3 1418.3,847.7 1420.2,847.0 1422.1,846.4 1424.0,845.7 1426.0,845.1 1428.0,844.4 1430.0,843.8 1432.0,843.2 1434.0,842.6 1436.0,841.9 1438.0,841.3 1440.0,840.7 1442.0,840.2 1444.0,839.6 1446.0,839.0 1448.0,838.4 1450.0,837.9 1452.0,837.3 1454.0,836.8 1456.0,836.3 1458.0,835.7 1460.0,835.2 1462.0,834.7 1464.0,834.2 1466.0,833.7 1468.0,833.2 1470.0,832.7 1472.0,832.3 1474.0,831.8 1476.0,831.3 1478.0,830.9 1480.0,830.4 1482.0,830.0 1484.0,829.6 1486.0,829.1 1488.0,828.7 1490.0,828.3 1492.0,827.9 1494.0,827.5 1496.0,827.1 1498.0,826.7 1500.0,826.4 1502.0,826.0 1504.0,825.6 1506.0,825.3 1508.0,824.9 1510.0,824.6 1512.0,824.2 1514.0,823.9 1516.0,823.5 1518.0,823.2 1520.0,822.9 1522.0,822.6 1524.0,822.3 1526.0,822.0 1528.0,821.7 1530.0,821.4 1532.0,821.1 1534.0,820.8 1536.0,820.6 1538.0,820.3 1540.0,820.0 1542.0,819.8 1544.0,819.5 1546.0,819.3 1548.0,819.0 1550.0,818.8 1552.0,818.5 1554.0,818.3 1556.0,818.1 1558.0,817.9 1560.0,817.7 1562.0,817.5 1564.0,817.2 1566.0,817.0 1568.0,816.8 1570.0,816.7 1572.0,816.5 1574.0,816.3 1576.0,816.1 1578.0,815.9 1580.0,815.8 1582.0,815.6 1584.0,815.4 1586.0,815.3 1588.0,815.1 1590.0,814.9 1592.0,814.8 1594.0,814.7 1596.0,814.5 1598.0,814.4 1600.0,814.2 1602.0,814.1 1604.0,814.0 1606.0,813.8 1608.0,813.7 1610.0,813.6 1612.0,813.5 1614.0,813.4 1616.0,813.3 1618.0,813.2 1620.0,813.0 1622.0,812.9 1624.0,812.8 1626.0,812.7 1628.0,812.7 1630.0,812.6 1632.0,812.5 1634.0,812.4 1636.0,812.3 1638.0,812.2 1640.0,812.1 1642.0,812.1 1644.0,812.0 1646.0,811.9 1648.0,811.8 1650.0,811.8 1652.0,811.7 1654.0,811.6 1656.0,811.6 1658.0,811.5 1660.0,811.4 1662.0,811.4 1664.0,811.3 1666.0,811.3 1668.0,811.2 1670.0,811.1 1672.0,811.1 1674.0,811.0 1676.0,811.0 1678.0,810.9 1680.0,810.9 1682.0,810.8 1684.0,810.8 1686.0,810.7 1688.0,810.7 1690.0,810.7 1692.0,810.6 1694.0,810.6 1696.0,810.5 1698.0,810.5 1700.0,810.4 1702.0,810.4 1704.0,810.4 1706.0,810.3 1708.0,810.3 1710.0,810.3 1712.0,810.2 1714.0,810.2 1716.0,810.2 1718.0,810.1 1720.0,810.1 1722.0,810.1 1724.0,810.0 1726.0,810.0 1728.0,810.0 1730.0,809.9 1732.0,809.9 1734.0,809.9 1736.0,809.9 1738.0,809.8 1740.0,809.8 1742.0,809.8 1744.0,809.8 1746.0,809.7 1748.0,809.7 1750.0,809.7 1752.0,809.7 1754.0,809.7 1756.0,809.6 1758.0,809.6 1760.0,809.6 1762.0,809.6 1764.0,809.6 1766.0,809.5 1768.0,809.5 1770.0,809.5 1772.0,809.5 1774.0,809.5 1776.0,809.5 1778.0,809.5 1780.0,809.4 1782.0,809.4 1784.0,809.4 1786.0,809.4 1788.0,809.4 1790.0,809.4 1792.0,809.4 1794.0,809.3 1796.0,809.3 1798.0,809.3 1800.0,809.3 1802.0,809.3 1804.0,809.3 1806.0,809.3 1808.0,809.3 1810.0,809.3 1812.0,809.3 1814.0,809.2 1816.0,809.2 1818.0,809.2 1820.0,809.2 1822.0,809.2 1824.0,809.2 1826.0,809.2 1828.0,809.2 1830.0,809.2 1832.0,809.2 1834.0,809.2 1836.0,809.2 1838.0,809.2 1840.0,809.1 1842.0,809.1 1844.0,809.1 1846.0,809.1 1848.0,809.1 1850.0,809.1 1852.0,809.1 1854.0,809.1 1856.0,809.1 1858.0,809.1 1860.0,809.1 1862.0,809.1 1864.0,809.1 1866.0,809.0 1868.0,809.0 1870.0,809.0 1872.0,809.0 1874.0,809.0 1876.0,809.0 1878.0,809.0 1880.0,809.0 1882.0,809.0 1884.0,809.0 1886.0,809.0 1888.0,809.0 1890.0,808.9 1892.0,808.9 1894.0,808.9 1896.0,808.9 1898.0,808.9 1900.0,808.9 1902.0,808.9 1904.0,808.9 1906.0,808.9 1908.0,808.8 1910.0,808.8 1912.0,808.8 1914.0,808.8 1916.0,808.8 1918.0,808.8 1920.0,808.8 1922.0,808.7 1924.0,808.7 1926.0,808.7 1928.0,808.7 1930.0,808.7 1932.0,808.7 1934.0,808.6 1935.0,808.6" stroke="#37AD6B" stroke-width="6.6" fill="none" stroke-linejoin="round" stroke-linecap="butt"/>
<path d="M210.0,776.1 212.0,776.1 214.0,776.1 216.0,776.1 218.0,776.1 220.0,776.1 222.0,776.0 224.0,776.0 226.0,776.0 228.0,776.0 230.0,776.0 232.0,776.0 234.0,776.0 236.0,776.0 238.0,776.0 240.0,776.0 242.0,776.0 244.0,776.0 246.0,776.0 248.0,776.0 250.0,776.0 252.0,776.0 254.0,775.9 256.0,775.9 258.0,775.9 260.0,775.9 262.0,775.9 264.0,775.9 266.0,775.9 268.0,775.9 270.0,775.9 272.0,775.9 274.0,775.9 276.0,775.9 278.0,775.9 280.0,775.9 282.0,775.9 284.0,775.9 286.0,775.9 288.0,775.9 290.0,775.9 292.0,775.9 294.0,775.9 296.0,775.9 298.0,775.9 300.0,775.9 302.0,775.9 304.0,775.9 306.0,775.9 308.0,775.9 310.0,775.9 312.0,775.9 314.0,775.9 316.0,775.9 318.0,776.0 320.0,776.0 322.0,776.0 324.0,776.0 326.0,776.0 328.0,776.0 330.0,776.0 332.0,776.0 334.0,776.0 336.0,776.0 338.0,776.0 340.0,776.0 342.0,776.0 344.0,776.0 346.0,776.0 348.0,776.0 350.0,776.0 352.0,776.0 354.0,776.0 356.0,776.0 358.0,776.0 360.0,776.0 362.0,776.0 364.0,776.0 366.0,776.0 368.0,776.0 370.0,776.0 372.0,776.0 374.0,776.0 376.0,776.0 378.0,776.0 380.0,776.0 382.0,776.1 384.0,776.1 386.0,776.1 388.0,776.1 390.0,776.1 392.0,776.1 394.0,776.1 396.0,776.1 398.0,776.1 400.0,776.1 402.0,776.1 404.0,776.1 406.0,776.1 408.0,776.1 410.0,776.1 412.0,776.1 414.0,776.1 416.0,776.1 418.0,776.1 420.0,776.1 422.0,776.1 424.0,776.1 426.0,776.1 428.0,776.1 430.0,776.1 432.0,776.1 434.0,776.1 436.0,776.1 438.0,776.1 440.0,776.1 442.0,776.1 444.0,776.1 446.0,776.1 448.0,776.1 450.0,776.0 452.0,776.0 454.0,776.0 456.0,776.0 458.0,776.0 460.0,776.0 462.0,776.0 464.0,776.0 466.0,776.0 468.0,776.0 470.0,776.0 472.0,776.0 474.0,776.0 476.0,776.0 478.0,776.0 480.0,776.0 482.0,775.9 484.0,775.9 486.0,775.9 488.0,775.9 490.0,775.9 492.0,775.9 494.0,775.9 496.0,775.9 498.0,775.9 500.0,775.8 502.0,775.8 504.0,775.8 506.0,775.8 508.0,775.8 510.0,775.8 512.0,775.7 514.0,775.7 516.0,775.7 518.0,775.7 520.0,775.7 522.0,775.6 524.0,775.6 526.0,775.6 528.0,775.6 530.0,775.5 532.0,775.5 534.0,775.5 536.0,775.5 538.0,775.4 540.0,775.4 542.0,775.4 544.0,775.3 546.0,775.3 548.0,775.3 550.0,775.2 552.0,775.2 554.0,775.2 556.0,775.1 558.0,775.1 560.0,775.0 562.0,775.0 564.0,774.9 566.0,774.9 568.0,774.8 570.0,774.8 572.0,774.7 574.0,774.7 576.0,774.6 578.0,774.6 580.0,774.5 582.0,774.5 584.0,774.4 586.0,774.3 588.0,774.3 590.0,774.2 592.0,774.1 594.0,774.1 596.0,774.0 598.0,773.9 600.0,773.8 602.0,773.8 604.0,773.7 606.0,773.6 608.0,773.5 610.0,773.4 612.0,773.3 614.0,773.2 616.0,773.1 618.0,773.1 620.0,773.0 622.0,772.9 624.0,772.8 626.0,772.6 628.0,772.5 630.0,772.4 632.0,772.3 634.0,772.2 636.0,772.1 638.0,772.0 640.0,771.8 642.0,771.7 644.0,771.6 646.0,771.5 648.0,771.3 650.0,771.2 652.0,771.1 654.0,770.9 656.0,770.8 658.0,770.6 660.0,770.5 662.0,770.3 664.0,770.1 666.0,770.0 668.0,769.8 670.0,769.6 672.0,769.4 674.0,769.3 676.0,769.1 678.0,768.9 680.0,768.7 682.0,768.5 684.0,768.3 686.0,768.0 688.0,767.8 690.0,767.6 692.0,767.4 694.0,767.1 696.0,766.9 698.0,766.7 700.0,766.4 702.0,766.2 704.0,765.9 706.0,765.6 708.0,765.4 710.0,765.1 712.0,764.8 714.0,764.5 716.0,764.2 718.0,763.9 720.0,763.6 722.0,763.3 724.0,762.9 726.0,762.6 728.0,762.3 730.0,761.9 732.0,761.6 734.0,761.2 736.0,760.8 738.0,760.5 740.0,760.1 742.0,759.7 744.0,759.3 746.0,758.9 748.0,758.5 750.0,758.0 752.0,757.6 754.0,757.2 756.0,756.7 758.0,756.3 760.0,755.8 762.0,755.3 764.0,754.9 766.0,754.4 768.0,753.9 770.0,753.4 772.0,752.9 774.0,752.3 776.0,751.8 778.0,751.3 780.0,750.7 782.0,750.1 784.0,749.6 786.0,749.0 788.0,748.4 790.0,747.8 792.0,747.2 794.0,746.6 796.0,745.9 798.0,745.3 800.0,744.6 801.9,744.0 803.8,743.4 805.7,742.7 807.6,742.1 809.5,741.4 811.4,740.7 813.3,740.0 815.2,739.3 817.1,738.6 819.0,737.9 820.9,737.2 822.8,736.5 824.7,735.7 826.6,735.0 828.5,734.2 830.4,733.4 832.3,732.7 834.2,731.9 836.1,731.1 838.0,730.3 839.9,729.5 841.8,728.7 843.7,727.9 845.6,727.0 847.5,726.2 849.4,725.4 851.3,724.6 853.2,723.7 855.1,722.9 857.0,722.0 858.9,721.2 860.8,720.3 862.7,719.5 864.6,718.6 866.5,717.8 868.4,716.9 870.3,716.1 872.2,715.2 874.1,714.4 876.0,713.5 877.9,712.7 879.8,711.8 881.7,711.0 883.6,710.1 885.5,709.3 887.4,708.5 889.3,707.6 891.2,706.8 893.1,706.0 895.0,705.1 896.9,704.3 898.8,703.5 900.7,702.7 902.6,701.9 904.5,701.1 906.4,700.3 908.3,699.5 910.2,698.7 912.1,697.9 914.0,697.1 915.9,696.2 917.8,695.4 919.7,694.6 921.6,693.8 923.5,692.9 925.4,692.0 927.3,691.2 929.2,690.3 931.1,689.4 932.9,688.5 934.7,687.6 936.5,686.7 938.3,685.8 940.1,684.8 941.9,683.8 943.7,682.8 945.5,681.8 947.3,680.8 949.1,679.7 950.9,678.6 952.6,677.5 954.3,676.4 956.0,675.3 957.7,674.1 959.4,672.9 961.1,671.7 962.8,670.5 964.4,669.3 966.0,668.0 967.6,666.8 969.2,665.5 970.8,664.1 972.4,662.8 974.0,661.4 975.5,660.0 977.0,658.6 978.5,657.2 980.0,655.8 981.5,654.3 983.0,652.8 984.4,651.4 985.8,649.9 987.2,648.4 988.6,646.8 990.0,645.3 991.4,643.7 992.8,642.1 994.1,640.6 995.4,639.0 996.7,637.4 998.0,635.8 999.3,634.2 1000.6,632.6 1001.9,630.9 1003.2,629.3 1004.5,627.6 1005.8,625.9 1007.1,624.1 1008.3,622.5 1009.5,620.9 1010.7,619.3 1011.9,617.6 1013.1,616.0 1014.3,614.3 1015.5,612.6 1016.7,610.9 1017.9,609.2 1019.1,607.5 1020.3,605.7 1021.5,604.0 1022.7,602.2 1023.9,600.5 1025.1,598.7 1026.3,596.9 1027.5,595.1 1028.7,593.3 1029.9,591.5 1031.1,589.7 1032.3,587.9 1033.4,586.2 1034.5,584.5 1035.6,582.8 1036.7,581.1 1037.8,579.4 1038.9,577.7 1040.0,576.0 1041.1,574.3 1042.2,572.5 1043.3,570.8 1044.4,569.1 1045.5,567.3 1046.6,565.5 1047.7,563.8 1048.8,562.0 1049.9,560.2 1051.0,558.3 1052.1,556.5 1053.2,554.7 1054.3,552.8 1055.4,551.0 1056.5,549.1 1057.6,547.2 1058.6,545.5 1059.6,543.7 1060.6,541.9 1061.6,540.2 1062.6,538.4 1063.6,536.6 1064.6,534.7 1065.6,532.9 1066.6,531.1 1067.6,529.2 1068.6,527.3 1069.6,525.3 1070.6,523.4 1071.6,521.4 1072.5,519.6 1073.4,517.7 1074.3,515.9 1075.2,514.0 1076.1,512.1 1077.0,510.1 1077.9,508.1 1078.8,506.1 1079.7,504.0 1080.5,502.2 1081.3,500.3 1082.1,498.4 1082.9,496.4 1083.7,494.4 1084.5,492.4 1085.3,490.4 1086.1,488.3 1086.9,486.1 1087.6,484.3 1088.3,482.3 1089.0,480.4 1089.7,478.4 1090.4,476.4 1091.1,474.4 1091.8,472.3 1092.5,470.2 1093.2,468.1 1093.9,465.9 1094.6,463.7 1095.3,461.5 1096.0,459.3 1096.6,457.4 1097.2,455.5 1097.8,453.5 1098.4,451.6 1099.0,449.6 1099.6,447.7 1100.2,445.7 1100.8,443.8 1101.4,441.8 1102.0,439.9 1102.6,437.9 1103.2,436.0 1103.8,434.1 1104.5,431.9 1105.2,429.7 1105.9,427.5 1106.6,425.3 1107.3,423.2 1108.0,421.1 1108.7,419.1 1109.4,417.0 1110.1,415.1 1110.8,413.1 1111.5,411.3 1112.3,409.2 1113.1,407.1 1113.9,405.2 1114.7,403.3 1115.6,401.3 1116.5,399.4 1117.5,397.4 1118.5,395.6 1119.6,393.8 1120.8,392.1 1122.1,390.5 1123.6,389.0 1125.3,388.0 1127.3,387.5 1129.3,387.9 1131.0,389.0 1132.5,390.5 1133.7,392.1 1134.8,393.9 1135.8,395.8 1136.7,397.7 1137.5,399.6 1138.3,401.7 1139.0,403.6 1139.7,405.7 1140.3,407.6 1140.9,409.6 1141.5,411.8 1142.1,414.0 1142.7,416.3 1143.2,418.3 1143.7,420.4 1144.2,422.6 1144.7,424.9 1145.2,427.2 1145.7,429.6 1146.1,431.6 1146.5,433.6 1146.9,435.7 1147.3,437.8 1147.7,440.0 1148.1,442.2 1148.5,444.5 1148.9,446.9 1149.3,449.3 1149.7,451.7 1150.1,454.2 1150.5,456.8 1150.9,459.4 1151.2,461.4 1151.5,463.4 1151.8,465.4 1152.1,467.5 1152.4,469.5 1152.7,471.7 1153.0,473.8 1153.3,476.0 1153.6,478.2 1153.9,480.4 1154.2,482.6 1154.5,484.9 1154.8,487.2 1155.1,489.5 1155.4,491.8 1155.7,494.2 1156.0,496.6 1156.3,499.0 1156.6,501.4 1156.9,503.8 1157.2,506.3 1157.5,508.8 1157.8,511.3 1158.1,513.8 1158.4,516.4 1158.7,519.0 1159.0,521.6 1159.3,524.2 1159.6,526.8 1159.9,529.4 1160.2,532.1 1160.5,534.8 1160.8,537.5 1161.1,540.2 1161.4,542.9 1161.7,545.7 1162.0,548.5 1162.3,551.3 1162.6,554.1 1162.9,556.9 1163.2,559.7 1163.5,562.5 1163.8,565.4 1164.1,568.3 1164.4,571.2 1164.7,574.1 1165.0,577.0 1165.3,579.9 1165.6,582.8 1165.9,585.8 1166.2,588.8 1166.5,591.7 1166.8,594.7 1167.0,596.7 1167.2,598.7 1167.4,600.7 1167.6,602.7 1167.8,604.7 1168.0,606.8 1168.2,608.8 1168.4,610.8 1168.6,612.9 1168.8,614.9 1169.0,616.9 1169.2,619.0 1169.4,621.0 1169.6,623.1 1169.8,625.1 1170.0,627.2 1170.2,629.3 1170.4,631.3 1170.6,633.4 1170.8,635.5 1171.0,637.5 1171.2,639.6 1171.4,641.7 1171.6,643.8 1171.8,645.9 1172.0,647.9 1172.2,650.0 1172.4,652.1 1172.6,654.2 1172.8,656.3 1173.0,658.4 1173.2,660.5 1173.4,662.6 1173.6,664.7 1173.8,666.8 1174.0,668.9 1174.2,671.1 1174.4,673.2 1174.6,675.3 1174.8,677.4 1175.0,679.5 1175.2,681.6 1175.4,683.7 1175.6,685.9 1175.8,688.0 1176.0,690.1 1176.2,692.2 1176.4,694.3 1176.6,696.5 1176.8,698.6 1177.0,700.7 1177.2,702.8 1177.4,704.9 1177.6,707.1 1177.8,709.2 1178.0,711.3 1178.2,713.4 1178.4,715.6 1178.6,717.7 1178.8,719.8 1179.0,721.9 1179.2,724.0 1179.4,726.1 1179.6,728.3 1179.8,730.4 1180.0,732.5 1180.2,734.6 1180.4,736.7 1180.6,738.8 1180.8,740.9 1181.0,743.0 1181.2,745.1 1181.4,747.2 1181.6,749.3 1181.8,751.4 1182.0,753.5 1182.2,755.6 1182.4,757.7 1182.6,759.8 1182.8,761.9 1183.0,764.0 1183.2,766.1 1183.4,768.2 1183.6,770.3 1183.8,772.3 1184.0,774.4 1184.2,776.5 1184.4,778.6 1184.6,780.7 1184.8,782.7 1185.0,784.8 1185.2,786.9 1185.4,788.9 1185.6,791.0 1185.8,793.0 1186.0,795.1 1186.2,797.2 1186.4,799.2 1186.6,801.3 1186.8,803.3 1187.0,805.4 1187.2,807.4 1187.4,809.4 1187.6,811.5 1187.8,813.5 1188.0,815.5 1188.2,817.6 1188.4,819.6 1188.6,821.6 1188.8,823.6 1189.0,825.7 1189.2,827.7 1189.4,829.7 1189.6,831.7 1189.8,833.7 1190.0,835.7 1190.2,837.7 1190.4,839.7 1190.6,841.7 1190.9,844.7 1191.2,847.7 1191.5,850.6 1191.8,853.6 1192.1,856.5 1192.4,859.5 1192.7,862.4 1193.0,865.3 1193.3,868.3 1193.6,871.2 1193.9,874.1 1194.2,877.0 1194.5,879.9 1194.8,882.7 1195.1,885.6 1195.4,888.5 1195.7,891.3 1196.0,894.2 1196.3,897.0 1196.6,899.8 1196.9,902.6 1197.2,905.4 1197.5,908.2 1197.8,911.0 1198.1,913.8 1198.4,916.5 1198.7,919.3 1199.0,922.0 1199.3,924.7 1199.6,927.4 1199.9,930.1 1200.2,932.8 1200.5,935.5 1200.8,938.2 1201.1,940.8 1201.4,943.5 1201.7,946.1 1202.0,948.8 1202.3,951.4 1202.6,954.0 1202.9,956.5 1203.2,959.1 1203.5,961.7 1203.8,964.2 1204.1,966.8 1204.4,969.3 1204.7,971.8 1205.0,974.3 1205.3,976.8 1205.6,979.2 1205.9,981.7 1206.2,984.1 1206.5,986.6 1206.8,989.0 1207.1,991.4 1207.4,993.8 1207.7,996.1 1208.0,998.5 1208.3,1000.8 1208.6,1003.2 1208.9,1005.5 1209.2,1007.8 1209.5,1010.1 1209.8,1012.3 1210.1,1014.6 1210.4,1016.8 1210.7,1019.0 1211.0,1021.2 1211.3,1023.4 1211.6,1025.6 1211.9,1027.8 1212.2,1029.9 1212.5,1032.0 1212.8,1034.1 1213.1,1036.2 1213.4,1038.3 1213.7,1040.3 1214.0,1042.4 1214.3,1044.4 1214.6,1046.4 1214.9,1048.4 1215.3,1051.0 1215.7,1053.6 1216.1,1056.2 1216.5,1058.7 1216.9,1061.2 1217.3,1063.7 1217.7,1066.1 1218.1,1068.5 1218.5,1070.9 1218.9,1073.2 1219.3,1075.5 1219.7,1077.7 1220.1,1080.0 1220.5,1082.2 1220.9,1084.3 1221.3,1086.4 1221.7,1088.5 1222.1,1090.6 1222.5,1092.6 1222.9,1094.6 1223.4,1097.0 1223.9,1099.4 1224.4,1101.7 1224.9,1104.0 1225.4,1106.3 1225.9,1108.4 1226.4,1110.6 1226.9,1112.7 1227.4,1114.7 1227.9,1116.7 1228.4,1118.6 1229.0,1120.9 1229.6,1123.1 1230.2,1125.2 1230.8,1127.3 1231.4,1129.3 1232.0,1131.2 1232.7,1133.4 1233.4,1135.5 1234.1,1137.6 1234.8,1139.5 1235.6,1141.6 1236.4,1143.6 1237.2,1145.6 1238.1,1147.6 1239.0,1149.5 1239.9,1151.3 1240.9,1153.2 1242.0,1155.1 1243.1,1156.8 1244.3,1158.5 1245.6,1160.1 1247.0,1161.6 1248.5,1163.0 1250.2,1164.3 1252.0,1165.2 1253.9,1165.9 1255.9,1166.1 1257.9,1166.0 1259.9,1165.4 1261.8,1164.6 1263.6,1163.5 1265.2,1162.3 1266.8,1160.9 1268.3,1159.4 1269.7,1157.8 1271.0,1156.2 1272.3,1154.5 1273.5,1152.9 1274.7,1151.1 1275.8,1149.4 1276.9,1147.6 1278.0,1145.8 1279.0,1144.1 1280.0,1142.3 1281.0,1140.4 1282.0,1138.5 1283.0,1136.6 1283.9,1134.8 1284.8,1133.0 1285.7,1131.1 1286.6,1129.2 1287.5,1127.3 1288.4,1125.3 1289.3,1123.3 1290.2,1121.3 1291.1,1119.2 1291.9,1117.4 1292.7,1115.5 1293.5,1113.6 1294.3,1111.7 1295.1,1109.8 1295.9,1107.8 1296.7,1105.9 1297.5,1103.9 1298.3,1101.9 1299.1,1099.9 1299.9,1097.9 1300.7,1095.8 1301.5,1093.8 1302.3,1091.7 1303.1,1089.7 1303.9,1087.6 1304.7,1085.5 1305.5,1083.4 1306.3,1081.4 1307.1,1079.3 1307.9,1077.2 1308.7,1075.1 1309.5,1073.0 1310.3,1070.9 1311.1,1068.7 1311.9,1066.6 1312.7,1064.5 1313.5,1062.4 1314.3,1060.3 1315.1,1058.2 1315.9,1056.0 1316.7,1053.9 1317.5,1051.8 1318.3,1049.7 1319.1,1047.6 1319.9,1045.5 1320.7,1043.4 1321.5,1041.3 1322.3,1039.1 1323.1,1037.0 1323.9,1035.0 1324.7,1032.9 1325.5,1030.8 1326.3,1028.7 1327.1,1026.6 1327.9,1024.5 1328.7,1022.5 1329.5,1020.4 1330.3,1018.4 1331.1,1016.3 1331.9,1014.3 1332.7,1012.3 1333.5,1010.3 1334.3,1008.3 1335.1,1006.3 1335.9,1004.3 1336.7,1002.3 1337.5,1000.4 1338.3,998.4 1339.1,996.5 1339.9,994.6 1340.7,992.7 1341.5,990.8 1342.3,988.9 1343.1,987.0 1343.9,985.2 1344.7,983.3 1345.6,981.3 1346.5,979.3 1347.4,977.3 1348.3,975.3 1349.2,973.3 1350.1,971.4 1351.0,969.5 1351.9,967.6 1352.8,965.7 1353.7,963.8 1354.6,962.0 1355.5,960.2 1356.4,958.4 1357.4,956.4 1358.4,954.5 1359.4,952.6 1360.4,950.7 1361.4,948.8 1362.4,946.9 1363.4,945.1 1364.4,943.3 1365.4,941.5 1366.4,939.7 1367.4,937.9 1368.4,936.2 1369.5,934.3 1370.6,932.4 1371.7,930.5 1372.8,928.7 1373.9,926.8 1375.0,925.0 1376.1,923.2 1377.2,921.5 1378.3,919.7 1379.4,917.9 1380.5,916.2 1381.6,914.5 1382.7,912.8 1383.8,911.0 1384.9,909.4 1386.0,907.7 1387.1,906.0 1388.3,904.2 1389.5,902.4 1390.7,900.5 1391.9,898.7 1393.1,897.0 1394.3,895.2 1395.5,893.4 1396.7,891.6 1397.9,889.9 1399.1,888.1 1400.3,886.4 1401.5,884.7 1402.7,883.0 1403.9,881.3 1405.1,879.7 1406.3,878.0 1407.5,876.4 1408.7,874.8 1410.0,873.1 1411.3,871.4 1412.6,869.7 1413.9,868.1 1415.2,866.5 1416.5,864.9 1417.8,863.4 1419.2,861.8 1420.6,860.2 1422.0,858.6 1423.4,857.1 1424.8,855.7 1426.2,854.2 1427.7,852.7 1429.2,851.3 1430.7,849.9 1432.2,848.5 1433.7,847.1 1435.3,845.8 1436.9,844.4 1438.5,843.1 1440.1,841.8 1441.7,840.5 1443.3,839.3 1445.0,838.1 1446.7,836.8 1448.4,835.6 1450.1,834.4 1451.8,833.3 1453.5,832.2 1455.2,831.1 1456.9,830.0 1458.6,828.9 1460.4,827.8 1462.2,826.7 1464.0,825.7 1465.8,824.6 1467.6,823.6 1469.4,822.6 1471.2,821.6 1473.0,820.7 1474.8,819.7 1476.6,818.8 1478.4,817.9 1480.2,817.0 1482.1,816.1 1484.0,815.2 1485.9,814.3 1487.8,813.5 1489.7,812.6 1491.6,811.8 1493.5,811.0 1495.4,810.3 1497.3,809.5 1499.2,808.7 1501.1,808.0 1503.0,807.3 1504.9,806.6 1506.8,805.9 1508.7,805.3 1510.6,804.6 1512.5,804.0 1514.4,803.3 1516.4,802.7 1518.4,802.1 1520.4,801.4 1522.4,800.8 1524.4,800.3 1526.4,799.7 1528.4,799.1 1530.4,798.6 1532.4,798.0 1534.4,797.5 1536.4,797.0 1538.4,796.5 1540.4,796.0 1542.4,795.5 1544.4,795.0 1546.4,794.6 1548.4,794.1 1550.4,793.7 1552.4,793.2 1554.4,792.8 1556.4,792.4 1558.4,792.0 1560.4,791.6 1562.4,791.2 1564.4,790.8 1566.4,790.5 1568.4,790.1 1570.4,789.8 1572.4,789.4 1574.4,789.1 1576.4,788.8 1578.4,788.5 1580.4,788.2 1582.4,787.9 1584.4,787.6 1586.4,787.3 1588.4,787.0 1590.4,786.8 1592.4,786.5 1594.4,786.2 1596.4,786.0 1598.4,785.8 1600.4,785.5 1602.4,785.3 1604.4,785.1 1606.4,784.9 1608.4,784.7 1610.4,784.5 1612.4,784.3 1614.4,784.1 1616.4,783.9 1618.4,783.8 1620.4,783.6 1622.4,783.4 1624.4,783.3 1626.4,783.1 1628.4,783.0 1630.4,782.8 1632.4,782.7 1634.4,782.6 1636.4,782.4 1638.4,782.3 1640.4,782.2 1642.4,782.1 1644.4,782.0 1646.4,781.9 1648.4,781.8 1650.4,781.7 1652.4,781.6 1654.4,781.5 1656.4,781.4 1658.4,781.3 1660.4,781.2 1662.4,781.2 1664.4,781.1 1666.4,781.0 1668.4,780.9 1670.4,780.9 1672.4,780.8 1674.4,780.7 1676.4,780.7 1678.4,780.6 1680.4,780.5 1682.4,780.5 1684.4,780.4 1686.4,780.4 1688.4,780.3 1690.4,780.3 1692.4,780.2 1694.4,780.2 1696.4,780.1 1698.4,780.1 1700.4,780.0 1702.4,780.0 1704.4,779.9 1706.4,779.9 1708.4,779.8 1710.4,779.8 1712.4,779.7 1714.4,779.7 1716.4,779.6 1718.4,779.6 1720.4,779.6 1722.4,779.5 1724.4,779.5 1726.4,779.4 1728.4,779.4 1730.4,779.4 1732.4,779.3 1734.4,779.3 1736.4,779.2 1738.4,779.2 1740.4,779.2 1742.4,779.1 1744.4,779.1 1746.4,779.1 1748.4,779.0 1750.4,779.0 1752.4,779.0 1754.4,778.9 1756.4,778.9 1758.4,778.9 1760.4,778.9 1762.4,778.8 1764.4,778.8 1766.4,778.8 1768.4,778.7 1770.4,778.7 1772.4,778.7 1774.4,778.7 1776.4,778.6 1778.4,778.6 1780.4,778.6 1782.4,778.6 1784.4,778.5 1786.4,778.5 1788.4,778.5 1790.4,778.5 1792.4,778.5 1794.4,778.4 1796.4,778.4 1798.4,778.4 1800.4,778.4 1802.4,778.4 1804.4,778.3 1806.4,778.3 1808.4,778.3 1810.4,778.3 1812.4,778.3 1814.4,778.2 1816.4,778.2 1818.4,778.2 1820.4,778.2 1822.4,778.2 1824.4,778.2 1826.4,778.1 1828.4,778.1 1830.4,778.1 1832.4,778.1 1834.4,778.1 1836.4,778.1 1838.4,778.1 1840.4,778.0 1842.4,778.0 1844.4,778.0 1846.4,778.0 1848.4,778.0 1850.4,778.0 1852.4,778.0 1854.4,778.0 1856.4,777.9 1858.4,777.9 1860.4,777.9 1862.4,777.9 1864.4,777.9 1866.4,777.9 1868.4,777.9 1870.4,777.9 1872.4,777.8 1874.4,777.8 1876.4,777.8 1878.4,777.8 1880.4,777.8 1882.4,777.8 1884.4,777.8 1886.4,777.8 1888.4,777.8 1890.4,777.8 1892.4,777.7 1894.4,777.7 1896.4,777.7 1898.4,777.7 1900.4,777.7 1902.4,777.7 1904.4,777.7 1906.4,777.7 1908.4,777.7 1910.4,777.6 1912.4,777.6 1914.4,777.6 1916.4,777.6 1918.4,777.6 1920.4,777.6 1922.4,777.6 1924.4,777.6 1926.4,777.6 1928.4,777.6 1930.4,777.5 1932.4,777.5 1934.4,777.5 1935.0,777.5" stroke="#B177DE" stroke-width="6.6" fill="none" stroke-linejoin="round" stroke-linecap="butt"/>
</g>
<g fill="#000">
<rect x="206" y="24" width="1735" height="8"/>
<rect x="206" y="24" width="8" height="1398"/>
<rect x="1936" y="24" width="5" height="1423"/>
<rect x="1933" y="32" width="3" height="1385" fill="#c8c8c8"/>
<rect x="206" y="1417" width="1735" height="5"/>
<rect x="206" y="1422" width="8" height="25"/>
<rect x="380.1" y="1422" width="5" height="11"/>
<rect x="552.8" y="1422" width="5" height="25"/>
<rect x="725.5" y="1422" width="5" height="11"/>
<rect x="898.1" y="1422" width="5" height="25"/>
<rect x="1070.8" y="1422" width="5" height="11"/>
<rect x="1243.4" y="1422" width="5" height="25"/>
<rect x="1416.0" y="1422" width="5" height="11"/>
<rect x="1588.7" y="1422" width="5" height="25"/>
<rect x="1761.4" y="1422" width="5" height="11"/>
<rect x="181" y="1417.0" width="25" height="5"/>
<rect x="181" y="1201.8" width="25" height="7.5"/>
<rect x="181" y="987.5" width="25" height="7.5"/>
<rect x="181" y="773.4" width="25" height="7.5"/>
<rect x="181" y="559.2" width="25" height="7.5"/>
<rect x="181" y="345.0" width="25" height="7.5"/>
<rect x="181" y="130.8" width="25" height="7.5"/>
</g>
<g font-family="'Liberation Serif', 'Times New Roman', serif" font-size="61" fill="#000" stroke="#fff" stroke-width="1.6">
<text x="210.0" y="1510" text-anchor="middle">15</text>
<text x="555.3" y="1510" text-anchor="middle">20</text>
<text x="900.6" y="1510" text-anchor="middle">25</text>
<text x="1245.9" y="1510" text-anchor="middle">30</text>
<text x="1591.2" y="1510" text-anchor="middle">35</text>
<text x="1936.5" y="1510" text-anchor="middle">40</text>
<text x="162.5" y="1442.2" text-anchor="end">−6</text>
<text x="162.5" y="1228.0" text-anchor="end">−4</text>
<text x="162.5" y="1013.8" text-anchor="end">−2</text>
<text x="162.5" y="799.6" text-anchor="end">0</text>
<text x="162.5" y="585.4" text-anchor="end">2</text>
<text x="162.5" y="371.2" text-anchor="end">4</text>
<text x="162.5" y="157.0" text-anchor="end">6</text>
</g>
<text x="1074" y="1624" font-family="'Liberation Serif', 'Times New Roman', serif" font-size="72" text-anchor="middle" stroke="#fff" stroke-width="0.9">Retention time (min)</text>
<text transform="translate(74,724) rotate(-90)" x="0" y="0" font-family="'Liberation Serif', 'Times New Roman', serif" font-size="72" text-anchor="middle" stroke="#fff" stroke-width="0.9">RI Signal (mV)</text>
<rect x="1440" y="84.5" width="166" height="7" fill="#515151"/>
<text x="1622" y="112.5" font-family="'Liberation Serif', 'Times New Roman', serif" font-size="72.5" stroke="#fff" stroke-width="0.9">EGD</text>
<rect x="1440" y="174.1" width="166" height="7" fill="#F14040"/>
<text x="1622" y="202.1" font-family="'Liberation Serif', 'Times New Roman', serif" font-size="72.5" stroke="#fff" stroke-width="0.9">EHBPs-a</text>
<rect x="1440" y="263.2" width="166" height="5.5" fill="#1A6FDF"/>
<text x="1622" y="290.5" font-family="'Liberation Serif', 'Times New Roman', serif" font-size="72.5" stroke="#fff" stroke-width="0.9">EHBPs-b</text>
<rect x="1440" y="351.3" width="166" height="7" fill="#37AD6B"/>
<text x="1622" y="379.3" font-family="'Liberation Serif', 'Times New Roman', serif" font-size="72.5" stroke="#fff" stroke-width="0.9">EHBPs-c</text>
<rect x="1440" y="441.3" width="166" height="7" fill="#B177DE"/>
<text x="1622" y="469.3" font-family="'Liberation Serif', 'Times New Roman', serif" font-size="72.5" stroke="#fff" stroke-width="0.9">EHBPs-d</text>
</svg></body></html>
